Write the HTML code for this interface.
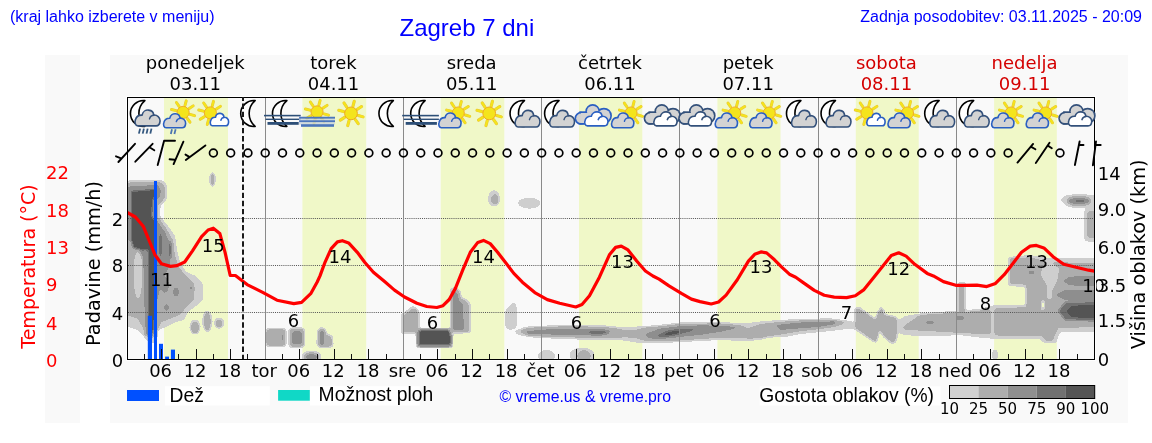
<!DOCTYPE html><html><head><meta charset="utf-8"><title>Zagreb 7 dni</title><style>html,body{margin:0;padding:0;background:#fff;width:1152px;height:443px;overflow:hidden}svg{display:block}</style></head><body>
<svg width="1152" height="443" viewBox="0 0 1152 443">
<defs>
<filter id="cf" filterUnits="userSpaceOnUse" x="115" y="85" width="992" height="286" color-interpolation-filters="sRGB">
<feGaussianBlur in="SourceGraphic" stdDeviation="1.3" result="b"/>
<feColorMatrix in="b" type="matrix" values="1 0 0 0 0 1 0 0 0 0 1 0 0 0 0 1 0 0 0 0" result="m"/>
<feComponentTransfer in="m">
<feFuncR type="discrete" tableValues="1.000 1.000 0.810 0.810 0.810 0.680 0.680 0.680 0.680 0.680 0.560 0.560 0.560 0.560 0.560 0.440 0.440 0.440 0.330 0.330"/>
<feFuncG type="discrete" tableValues="1.000 1.000 0.810 0.810 0.810 0.680 0.680 0.680 0.680 0.680 0.560 0.560 0.560 0.560 0.560 0.440 0.440 0.440 0.330 0.330"/>
<feFuncB type="discrete" tableValues="1.000 1.000 0.810 0.810 0.810 0.680 0.680 0.680 0.680 0.680 0.560 0.560 0.560 0.560 0.560 0.440 0.440 0.440 0.330 0.330"/>
<feFuncA type="discrete" tableValues="0 0 1 1 1 1 1 1 1 1 1 1 1 1 1 1 1 1 1 1"/>
</feComponentTransfer>
</filter>
<clipPath id="pc"><rect x="127" y="97" width="968" height="262"/></clipPath>
</defs>
<rect x="0" y="0" width="1152" height="443" fill="#ffffff"/>
<rect x="45" y="55" width="35" height="368" fill="#f9f9f9"/>
<rect x="110" y="55" width="1018" height="368" fill="#f9f9f9"/>
<text x="10" y="21.6" font-family="Liberation Sans, Arial, sans-serif" font-size="16" fill="#0000ff">(kraj lahko izberete v meniju)</text>
<text x="399.5" y="36.4" font-family="Liberation Sans, Arial, sans-serif" font-size="24" fill="#0000ff">Zagreb 7 dni</text>
<text x="1142" y="21.5" text-anchor="end" font-family="Liberation Sans, Arial, sans-serif" font-size="16" fill="#0000ff">Zadnja posodobitev: 03.11.2025 - 20:09</text>
<rect x="164.0" y="97" width="64.0" height="262" fill="#f0f8c8"/>
<rect x="302.4" y="97" width="63.8" height="262" fill="#f0f8c8"/>
<rect x="440.7" y="97" width="63.6" height="262" fill="#f0f8c8"/>
<rect x="579.0" y="97" width="63.3" height="262" fill="#f0f8c8"/>
<rect x="717.4" y="97" width="63.1" height="262" fill="#f0f8c8"/>
<rect x="855.8" y="97" width="62.9" height="262" fill="#f0f8c8"/>
<rect x="994.1" y="97" width="62.7" height="262" fill="#f0f8c8"/>
<g filter="url(#cf)" clip-path="url(#pc)">
<rect x="115" y="85" width="992" height="286" fill="#000"/>
<polygon fill="rgb(54,54,54)" points="120.0,188.0 124.0,182.0 129.0,180.5 163.0,180.5 167.0,185.0 167.0,199.0 160.5,206.0 160.0,216.0 168.0,226.0 175.0,236.0 177.0,250.0 180.0,262.0 186.0,272.0 196.0,276.0 203.0,284.0 203.0,300.0 196.0,306.0 188.0,312.0 184.0,320.0 176.0,322.0 166.0,327.0 158.0,330.0 157.0,342.0 150.0,344.0 145.0,338.0 138.0,330.0 120.0,324.0"/>
<polygon fill="rgb(94,94,94)" points="120.0,190.0 126.0,184.0 130.0,183.0 161.0,183.0 164.0,187.0 164.0,198.0 157.5,205.0 157.0,217.0 165.0,228.0 172.0,240.0 174.0,255.0 178.0,267.0 185.0,276.0 193.0,283.0 193.0,300.0 186.0,306.0 180.0,314.0 170.0,318.0 160.0,322.0 156.0,335.0 149.0,337.0 144.0,328.0 138.0,318.0 120.0,312.0"/>
<polygon fill="rgb(158,158,158)" points="120.0,195.0 127.0,188.0 131.0,186.0 158.0,185.0 161.0,190.0 160.0,197.0 155.0,202.0 154.0,216.0 162.0,228.0 168.0,240.0 170.0,255.0 170.0,265.0 165.0,275.0 160.0,290.0 157.0,300.0 155.0,330.0 150.0,332.0 146.0,322.0 144.0,300.0 143.0,270.0 135.0,245.0 129.0,240.0 120.0,240.0"/>
<ellipse fill="rgb(158,158,158)" cx="165.0" cy="285.0" rx="4.0" ry="8.0"/>
<ellipse fill="rgb(158,158,158)" cx="166.5" cy="307.5" rx="2.5" ry="3.5"/>
<ellipse fill="rgb(158,158,158)" cx="176.0" cy="292.0" rx="3.0" ry="5.0"/>
<polygon fill="rgb(247,247,247)" points="131.0,191.0 156.0,189.0 157.0,193.0 153.0,200.0 152.0,216.0 156.0,222.0 156.0,300.0 154.0,330.0 151.0,338.0 148.0,335.0 148.0,300.0 147.0,260.0 142.0,250.0 133.0,248.0 131.0,240.0"/>
<ellipse fill="rgb(51,51,51)" cx="138.0" cy="275.0" rx="5.0" ry="25.0"/>
<ellipse fill="rgb(31,31,31)" cx="139.0" cy="261.0" rx="3.5" ry="7.0"/>
<ellipse fill="rgb(36,36,36)" cx="139.0" cy="283.0" rx="3.0" ry="5.0"/>
<polygon fill="rgb(158,158,158)" points="143.0,250.0 148.0,250.0 148.5,335.0 145.5,335.0"/>
<polygon fill="rgb(158,158,158)" points="157.0,226.0 164.0,230.0 170.0,243.0 171.0,258.0 166.0,264.0 157.0,264.0"/>
<ellipse fill="rgb(209,209,209)" cx="160.5" cy="245.0" rx="2.0" ry="14.0"/>
<ellipse fill="rgb(209,209,209)" cx="170.0" cy="250.0" rx="2.0" ry="9.0"/>
<ellipse fill="rgb(94,94,94)" cx="190.5" cy="289.0" rx="3.5" ry="4.5"/>
<ellipse fill="rgb(158,158,158)" cx="191.0" cy="288.0" rx="1.5" ry="2.0"/>
<ellipse fill="rgb(54,54,54)" cx="195.0" cy="327.0" rx="5.5" ry="7.5"/>
<ellipse fill="rgb(94,94,94)" cx="195.0" cy="327.5" rx="3.5" ry="5.5"/>
<ellipse fill="rgb(54,54,54)" cx="207.3" cy="321.3" rx="5.0" ry="11.0"/>
<ellipse fill="rgb(94,94,94)" cx="207.3" cy="321.5" rx="3.0" ry="9.0"/>
<ellipse fill="rgb(54,54,54)" cx="219.2" cy="323.0" rx="5.2" ry="5.5"/>
<ellipse fill="rgb(94,94,94)" cx="219.0" cy="323.5" rx="3.0" ry="3.5"/>
<ellipse fill="rgb(54,54,54)" cx="212.5" cy="179.5" rx="3.0" ry="7.5"/>
<ellipse fill="rgb(94,94,94)" cx="212.5" cy="179.5" rx="2.0" ry="6.0"/>
<rect fill="rgb(54,54,54)" x="265.0" y="328.0" width="21.5" height="19.0" rx="4.0"/>
<rect fill="rgb(94,94,94)" x="266.5" y="329.5" width="18.5" height="16.0" rx="3.0"/>
<ellipse fill="rgb(158,158,158)" cx="283.0" cy="337.0" rx="1.0" ry="7.0"/>
<rect fill="rgb(54,54,54)" x="288.5" y="327.5" width="16.5" height="20.5" rx="4.0"/>
<rect fill="rgb(94,94,94)" x="290.0" y="329.0" width="13.5" height="17.5" rx="3.0"/>
<rect fill="rgb(158,158,158)" x="292.0" y="331.0" width="10.0" height="13.5" rx="2.0"/>
<polygon fill="rgb(54,54,54)" points="317.0,330.0 321.0,327.0 325.0,328.0 327.0,333.5 333.0,336.0 333.5,346.0 330.0,348.0 320.0,348.0 316.5,345.0"/>
<polygon fill="rgb(94,94,94)" points="318.5,331.0 321.0,329.0 324.0,330.0 325.5,335.0 331.0,337.5 331.5,345.0 329.0,346.5 320.5,346.5 318.5,344.0"/>
<rect fill="rgb(158,158,158)" x="319.5" y="331.0" width="5.0" height="14.0" rx="1.5"/>
<ellipse fill="rgb(54,54,54)" cx="311.5" cy="356.5" rx="10.0" ry="6.0"/>
<ellipse fill="rgb(158,158,158)" cx="311.5" cy="357.0" rx="7.0" ry="3.5"/>
<polygon fill="rgb(54,54,54)" points="401.0,314.0 406.0,311.0 412.0,306.0 416.0,307.0 419.5,311.0 419.5,334.0 401.0,334.0"/>
<polygon fill="rgb(94,94,94)" points="404.5,315.0 408.0,313.0 412.5,309.0 415.0,309.5 417.5,312.0 417.5,332.0 404.5,332.0"/>
<rect fill="rgb(54,54,54)" x="416.0" y="328.3" width="37.0" height="19.7" rx="3.0"/>
<rect fill="rgb(209,209,209)" x="417.5" y="329.5" width="34.0" height="17.0" rx="2.0"/>
<rect fill="rgb(247,247,247)" x="419.0" y="330.6" width="31.3" height="14.4" rx="1.0"/>
<polygon fill="rgb(54,54,54)" points="450.0,289.0 455.0,286.5 460.0,290.0 462.0,297.0 468.0,300.0 471.0,305.0 471.0,333.0 450.0,334.0"/>
<polygon fill="rgb(94,94,94)" points="451.0,291.0 455.0,288.5 459.0,292.0 460.5,299.0 466.0,302.0 469.0,307.0 469.0,331.0 451.0,332.0"/>
<polygon fill="rgb(158,158,158)" points="452.5,293.0 455.0,290.5 458.0,294.0 459.0,300.0 463.0,304.0 464.0,330.0 452.5,330.0"/>
<ellipse fill="rgb(54,54,54)" cx="494.0" cy="198.5" rx="6.0" ry="8.3"/>
<ellipse fill="rgb(94,94,94)" cx="495.0" cy="199.5" rx="3.0" ry="4.5"/>
<ellipse fill="rgb(54,54,54)" cx="529.2" cy="203.1" rx="11.3" ry="5.4"/>
<polygon fill="rgb(54,54,54)" points="505.0,311.0 511.0,304.0 514.5,302.5 516.5,306.0 516.5,327.0 513.0,329.5 507.0,329.5 505.0,325.0"/>
<polygon fill="rgb(54,54,54)" points="514.0,331.0 525.0,327.0 560.0,325.0 600.0,325.0 620.0,327.0 640.0,326.5 660.0,325.0 680.0,322.5 720.0,322.0 745.0,323.5 760.0,321.5 780.0,320.0 800.0,319.0 830.0,318.5 850.0,321.0 857.0,323.0 857.0,329.0 850.0,328.5 830.0,331.0 800.0,334.0 785.0,337.0 770.0,337.5 760.0,340.0 745.0,341.0 720.0,340.0 700.0,341.0 680.0,342.0 660.0,343.0 640.0,343.0 620.0,340.0 600.0,340.0 560.0,339.0 530.0,337.0 518.0,335.0"/>
<polygon fill="rgb(94,94,94)" points="520.0,331.0 530.0,327.5 560.0,326.8 600.0,327.0 615.0,328.5 625.0,331.0 635.0,331.0 645.0,328.0 680.0,324.5 720.0,324.0 740.0,326.0 748.0,329.0 760.0,325.0 780.0,322.5 800.0,321.0 835.0,320.0 845.0,322.5 835.0,326.0 820.0,328.0 800.0,330.5 785.0,333.0 770.0,335.5 760.0,337.5 750.0,338.0 740.0,337.0 720.0,337.0 700.0,338.5 680.0,340.0 660.0,341.0 645.0,340.0 635.0,337.0 625.0,336.5 615.0,337.0 600.0,337.5 560.0,336.5 530.0,336.0"/>
<polygon fill="rgb(158,158,158)" points="526.0,331.5 540.0,329.5 570.0,329.0 600.0,329.0 612.0,330.5 600.0,335.5 570.0,335.0 540.0,334.5 526.0,334.0"/>
<polygon fill="rgb(158,158,158)" points="645.0,334.0 660.0,328.5 680.0,326.0 700.0,325.0 725.0,325.5 740.0,327.5 720.0,332.0 700.0,335.0 680.0,337.0 660.0,339.0 648.0,338.5"/>
<ellipse fill="rgb(209,209,209)" cx="598.0" cy="332.5" rx="11.0" ry="2.3"/>
<polygon fill="rgb(209,209,209)" points="655.0,335.5 668.0,330.0 685.0,328.0 698.0,328.5 690.0,332.0 675.0,336.0 660.0,337.5"/>
<polygon fill="rgb(247,247,247)" points="662.0,334.5 672.0,331.0 682.0,330.5 678.0,333.5 668.0,336.0"/>
<polygon fill="rgb(158,158,158)" points="775.0,325.0 800.0,322.2 835.0,321.0 835.0,324.5 820.0,327.0 800.0,328.5 780.0,330.0"/>
<ellipse fill="rgb(54,54,54)" cx="546.5" cy="356.0" rx="8.5" ry="6.0"/>
<ellipse fill="rgb(54,54,54)" cx="582.0" cy="355.0" rx="12.5" ry="7.5"/>
<ellipse fill="rgb(94,94,94)" cx="584.0" cy="356.0" rx="6.0" ry="5.0"/>
<polygon fill="rgb(54,54,54)" points="854.5,308.0 859.0,306.5 875.0,318.0 878.0,310.5 881.0,306.5 884.5,309.5 885.0,314.0 896.5,316.5 898.5,321.0 898.0,336.0 895.5,343.5 890.5,343.5 882.5,336.5 880.5,332.5 879.5,332.5 877.0,343.0 872.5,341.5 854.5,329.5"/>
<polygon fill="rgb(94,94,94)" points="856.2,309.3 858.7,308.7 875.4,320.5 879.2,312.4 881.0,308.7 882.9,311.1 883.5,315.5 895.3,318.0 896.6,322.3 896.0,336.0 894.0,341.6 891.6,341.6 883.5,334.8 881.6,329.8 878.5,330.4 876.0,341.0 873.6,339.7 856.2,328.0 855.6,319.8"/>
<polygon fill="rgb(54,54,54)" points="896.0,322.0 905.0,316.0 920.0,313.5 940.0,312.0 960.0,310.5 980.0,309.0 990.0,306.0 1010.0,305.0 1010.0,339.0 997.0,339.0 980.0,337.5 960.0,335.0 940.0,336.0 920.0,336.0 905.0,335.0 896.0,332.0"/>
<polygon fill="rgb(94,94,94)" points="903.4,327.3 919.5,316.1 925.0,314.9 960.0,313.0 990.0,310.0 1010.0,308.0 1010.0,334.0 995.0,334.0 960.0,332.0 925.0,330.0 905.0,329.0"/>
<ellipse fill="rgb(158,158,158)" cx="930.0" cy="322.5" rx="5.0" ry="1.5"/>
<ellipse fill="rgb(158,158,158)" cx="960.0" cy="318.0" rx="5.0" ry="2.0"/>
<ellipse fill="rgb(158,158,158)" cx="999.0" cy="316.0" rx="9.0" ry="4.0"/>
<rect fill="rgb(54,54,54)" x="957.5" y="282.0" width="8.5" height="31.0" rx="2.0"/>
<rect fill="rgb(94,94,94)" x="959.5" y="284.5" width="4.5" height="27.5" rx="1.0"/>
<ellipse fill="rgb(54,54,54)" cx="995.0" cy="355.0" rx="3.0" ry="6.0"/>
<polygon fill="rgb(54,54,54)" points="1008.0,257.0 1030.0,255.0 1050.0,258.5 1105.0,258.5 1105.0,332.0 1060.0,332.0 1056.0,343.0 1044.0,343.0 1040.0,339.0 997.0,339.0 990.0,337.0 990.0,306.0 1000.0,305.0 1025.0,305.0 1025.0,287.0 1008.0,286.0"/>
<polygon fill="rgb(94,94,94)" points="1010.0,259.0 1030.0,258.0 1050.0,263.0 1105.0,264.0 1105.0,326.0 1058.0,327.0 1052.0,340.0 1046.0,340.0 1042.0,335.0 1000.0,335.0 995.0,334.0 995.0,309.0 1027.0,308.0 1027.0,284.0 1010.0,283.0"/>
<polygon fill="rgb(51,51,51)" points="1042.0,265.0 1050.0,262.0 1060.0,268.0 1058.0,280.0 1053.0,290.0 1052.0,300.0 1047.0,300.0 1046.0,285.0 1040.0,275.0"/>
<ellipse fill="rgb(15,15,15)" cx="1043.0" cy="305.0" rx="2.0" ry="6.0"/>
<ellipse fill="rgb(26,26,26)" cx="1051.0" cy="272.0" rx="2.5" ry="4.0"/>
<ellipse fill="rgb(158,158,158)" cx="1031.5" cy="272.5" rx="3.5" ry="2.0"/>
<polygon fill="rgb(158,158,158)" points="1062.0,281.0 1070.0,276.5 1105.0,276.0 1105.0,286.0 1070.0,285.5"/>
<polygon fill="rgb(158,158,158)" points="1055.0,295.0 1065.0,290.0 1105.0,289.5 1105.0,300.0 1065.0,300.0"/>
<polygon fill="rgb(209,209,209)" points="1058.0,311.0 1065.0,302.0 1105.0,300.5 1105.0,321.0 1065.0,320.5"/>
<polygon fill="rgb(247,247,247)" points="1066.0,311.0 1072.0,305.5 1105.0,305.0 1105.0,318.0 1072.0,317.5"/>
<polygon fill="rgb(54,54,54)" points="1060.5,200.0 1066.0,195.0 1080.0,194.0 1093.0,195.0 1105.0,200.0 1093.0,207.5 1075.0,208.0 1066.0,206.0"/>
<ellipse fill="rgb(158,158,158)" cx="1079.0" cy="201.0" rx="11.0" ry="4.0"/>
<ellipse fill="rgb(209,209,209)" cx="1080.0" cy="201.0" rx="5.0" ry="2.0"/>
<rect fill="rgb(54,54,54)" x="1084.0" y="208.5" width="21.0" height="33.0" rx="4.0"/>
<rect fill="rgb(94,94,94)" x="1087.5" y="212.0" width="17.5" height="25.0" rx="2.0"/>
</g>
<line x1="128" y1="218.5" x2="1094" y2="218.5" stroke="#555" stroke-width="1" stroke-dasharray="1,1.1"/>
<line x1="128" y1="265.5" x2="1094" y2="265.5" stroke="#555" stroke-width="1" stroke-dasharray="1,1.1"/>
<line x1="128" y1="312.5" x2="1094" y2="312.5" stroke="#555" stroke-width="1" stroke-dasharray="1,1.1"/>
<line x1="265.5" y1="97" x2="265.5" y2="359" stroke="#8a8a8a" stroke-width="1"/>
<line x1="403.5" y1="97" x2="403.5" y2="359" stroke="#8a8a8a" stroke-width="1"/>
<line x1="541.5" y1="97" x2="541.5" y2="359" stroke="#8a8a8a" stroke-width="1"/>
<line x1="679.5" y1="97" x2="679.5" y2="359" stroke="#8a8a8a" stroke-width="1"/>
<line x1="818.5" y1="97" x2="818.5" y2="359" stroke="#8a8a8a" stroke-width="1"/>
<line x1="956.5" y1="97" x2="956.5" y2="359" stroke="#8a8a8a" stroke-width="1"/>
<rect x="147.8" y="315.8" width="4.2" height="43.2" fill="#0050ff"/>
<rect x="154.0" y="181.0" width="3.0" height="178.0" fill="#0050ff"/>
<rect x="159.0" y="343.8" width="4.0" height="15.2" fill="#0050ff"/>
<rect x="165.1" y="356.6" width="3.9" height="2.4" fill="#0050ff"/>
<rect x="170.9" y="349.6" width="4.1" height="9.4" fill="#0050ff"/>
<path d="M127.6,212.7 L135.4,217.0 L143.2,226.2 L149.7,241.8 L154.9,254.7 L161.4,263.8 L170.5,266.4 L177.0,265.6 L184.7,262.0 L192.5,250.8 L201.6,236.6 L208.1,230.0 L213.3,228.2 L219.8,233.4 L225.0,252.1 L230.2,275.5 L235.4,275.5 L247.1,284.6 L262.7,292.4 L277.0,300.2 L293.8,303.6 L301.6,302.3 L310.7,293.7 L317.2,282.0 L320.0,275.9 L325.0,262.3 L331.2,248.6 L337.4,241.9 L342.4,240.7 L348.6,242.9 L357.3,252.3 L364.7,262.3 L373.4,272.2 L384.6,281.6 L394.5,290.1 L404.5,297.0 L416.9,303.3 L426.8,306.5 L436.8,307.5 L443.0,305.7 L449.2,299.5 L455.4,288.4 L462.9,269.7 L470.3,252.3 L477.8,242.4 L483.5,240.4 L490.2,243.6 L497.6,252.3 L506.3,263.5 L513.8,273.4 L522.4,282.2 L534.8,292.6 L547.3,299.6 L559.7,303.3 L575.8,307.0 L582.0,304.5 L589.5,295.8 L599.4,277.2 L609.4,254.8 L615.6,247.4 L621.3,246.1 L628.0,249.9 L636.7,261.0 L645.4,271.0 L652.9,276.0 L659.1,279.2 L669.0,285.9 L681.4,293.4 L691.4,299.1 L700.0,301.6 L711.2,304.0 L718.6,302.0 L726.1,295.1 L737.3,279.7 L748.4,261.1 L754.7,254.3 L760.9,251.9 L766.6,252.9 L774.5,259.8 L782.0,267.3 L789.4,274.2 L795.7,277.2 L804.3,283.4 L814.3,290.4 L824.2,295.3 L834.2,297.1 L846.6,297.6 L855.3,295.8 L864.0,289.6 L873.9,277.2 L883.9,264.8 L891.3,255.6 L898.7,252.8 L906.1,256.1 L914.8,264.3 L927.2,273.4 L933.4,275.9 L943.4,281.6 L955.8,285.3 L964.5,285.3 L976.9,285.1 L986.8,286.6 L995.5,283.4 L1004.2,274.7 L1012.9,263.5 L1021.5,252.3 L1030.2,246.1 L1036.4,245.4 L1043.9,247.9 L1053.8,257.3 L1063.7,264.3 L1076.1,267.2 L1088.6,270.2 L1094.5,271.2" fill="none" stroke="#ff0000" stroke-width="3.2" stroke-linejoin="round" stroke-linecap="round" clip-path="url(#pc)"/>
<text x="161.4" y="286.1" text-anchor="middle" font-family="DejaVu Sans, sans-serif" font-size="18" fill="#000">11</text>
<text x="213.3" y="251.7" text-anchor="middle" font-family="DejaVu Sans, sans-serif" font-size="18" fill="#000">15</text>
<text x="293.6" y="326.6" text-anchor="middle" font-family="DejaVu Sans, sans-serif" font-size="18" fill="#000">6</text>
<text x="339.9" y="262.6" text-anchor="middle" font-family="DejaVu Sans, sans-serif" font-size="18" fill="#000">14</text>
<text x="432.5" y="329.2" text-anchor="middle" font-family="DejaVu Sans, sans-serif" font-size="18" fill="#000">6</text>
<text x="483.5" y="262.6" text-anchor="middle" font-family="DejaVu Sans, sans-serif" font-size="18" fill="#000">14</text>
<text x="576.6" y="329.3" text-anchor="middle" font-family="DejaVu Sans, sans-serif" font-size="18" fill="#000">6</text>
<text x="622.5" y="268.4" text-anchor="middle" font-family="DejaVu Sans, sans-serif" font-size="18" fill="#000">13</text>
<text x="714.9" y="326.6" text-anchor="middle" font-family="DejaVu Sans, sans-serif" font-size="18" fill="#000">6</text>
<text x="760.9" y="273.4" text-anchor="middle" font-family="DejaVu Sans, sans-serif" font-size="18" fill="#000">13</text>
<text x="846.6" y="319.3" text-anchor="middle" font-family="DejaVu Sans, sans-serif" font-size="18" fill="#000">7</text>
<text x="898.7" y="274.6" text-anchor="middle" font-family="DejaVu Sans, sans-serif" font-size="18" fill="#000">12</text>
<text x="985.6" y="309.8" text-anchor="middle" font-family="DejaVu Sans, sans-serif" font-size="18" fill="#000">8</text>
<text x="1036.4" y="267.6" text-anchor="middle" font-family="DejaVu Sans, sans-serif" font-size="18" fill="#000">13</text>
<text x="1093.6" y="292.1" text-anchor="middle" font-family="DejaVu Sans, sans-serif" font-size="18" fill="#000">10</text>
<rect x="126.5" y="96.5" width="969" height="264" fill="none" stroke="#fff" stroke-width="1"/>
<rect x="127.5" y="97.5" width="967" height="262" fill="none" stroke="#000" stroke-width="1"/>
<path transform="translate(138.28,113.50) scale(1.00)" d="M6.6,-12.9 A12.98,12.98 0 1 0 6.6,12.9 A16.87,16.87 0 0 1 6.6,-12.9 Z" fill="#fff" stroke="#000" stroke-width="1.6" stroke-linejoin="round"/>
<g transform="translate(134.88,109.90) scale(1.008,1.000)"><path d="M3,16 C0.5,16 -0.5,12.5 0.5,10 C1.3,7 4,5 7.2,5.2 C7.8,1.5 11,0 13.5,0.2 C16.5,0.5 18.6,2.5 18.6,5.2 C22,4.8 25.2,7.5 25,11 C24.8,14 23,16 21,16 Z" fill="#d3d3d3" stroke="#33507a" stroke-width="1.60" vector-effect="non-scaling-stroke" stroke-linejoin="round"/><path d="M14.5,9.0 C15.2,6.5 17,5.4 19,5.4" fill="none" stroke="#33507a" stroke-width="1.44" vector-effect="non-scaling-stroke" stroke-linecap="round"/></g>
<line x1="140.1" y1="128.6" x2="138.9" y2="133.6" stroke="#34577f" stroke-width="1.8"/>
<line x1="143.9" y1="128.6" x2="142.7" y2="133.6" stroke="#34577f" stroke-width="1.8"/>
<line x1="147.7" y1="128.6" x2="146.5" y2="133.6" stroke="#34577f" stroke-width="1.8"/>
<line x1="151.5" y1="128.6" x2="150.3" y2="133.6" stroke="#34577f" stroke-width="1.8"/>
<g transform="translate(183.13,112.40) scale(0.95)"><line x1="1.97" y1="-7.34" x2="3.26" y2="-12.17" stroke="#e9c23a" stroke-width="3.1" stroke-linecap="round"/><line x1="-4.25" y1="-6.30" x2="-7.05" y2="-10.45" stroke="#e9c23a" stroke-width="3.1" stroke-linecap="round"/><line x1="-7.37" y1="-1.84" x2="-12.23" y2="-3.05" stroke="#e9c23a" stroke-width="3.1" stroke-linecap="round"/><line x1="-6.45" y1="4.03" x2="-10.69" y2="6.68" stroke="#e9c23a" stroke-width="3.1" stroke-linecap="round"/><line x1="-1.97" y1="7.34" x2="-3.26" y2="12.17" stroke="#e9c23a" stroke-width="3.1" stroke-linecap="round"/><line x1="4.36" y1="6.23" x2="7.23" y2="10.32" stroke="#e9c23a" stroke-width="3.1" stroke-linecap="round"/><line x1="7.31" y1="2.09" x2="12.11" y2="3.47" stroke="#e9c23a" stroke-width="3.1" stroke-linecap="round"/><line x1="6.37" y1="-4.14" x2="10.57" y2="-6.86" stroke="#e9c23a" stroke-width="3.1" stroke-linecap="round"/><line x1="1.97" y1="-7.34" x2="3.26" y2="-12.17" stroke="#f4e41c" stroke-width="2.2" stroke-linecap="round"/><line x1="-4.25" y1="-6.30" x2="-7.05" y2="-10.45" stroke="#f4e41c" stroke-width="2.2" stroke-linecap="round"/><line x1="-7.37" y1="-1.84" x2="-12.23" y2="-3.05" stroke="#f4e41c" stroke-width="2.2" stroke-linecap="round"/><line x1="-6.45" y1="4.03" x2="-10.69" y2="6.68" stroke="#f4e41c" stroke-width="2.2" stroke-linecap="round"/><line x1="-1.97" y1="7.34" x2="-3.26" y2="12.17" stroke="#f4e41c" stroke-width="2.2" stroke-linecap="round"/><line x1="4.36" y1="6.23" x2="7.23" y2="10.32" stroke="#f4e41c" stroke-width="2.2" stroke-linecap="round"/><line x1="7.31" y1="2.09" x2="12.11" y2="3.47" stroke="#f4e41c" stroke-width="2.2" stroke-linecap="round"/><line x1="6.37" y1="-4.14" x2="10.57" y2="-6.86" stroke="#f4e41c" stroke-width="2.2" stroke-linecap="round"/><circle r="6.4" fill="#f4e41c" stroke="#eea21e" stroke-width="0.9"/></g>
<g transform="translate(163.43,113.60) scale(0.888,0.887)"><path d="M3,16 C0.5,16 -0.5,12.5 0.5,10 C1.3,7 4,5 7.2,5.2 C7.8,1.5 11,0 13.5,0.2 C16.5,0.5 18.6,2.5 18.6,5.2 C22,4.8 25.2,7.5 25,11 C24.8,14 23,16 21,16 Z" fill="#d3d3d3" stroke="#2a5fc2" stroke-width="1.60" vector-effect="non-scaling-stroke" stroke-linejoin="round"/><path d="M14.5,9.0 C15.2,6.5 17,5.4 19,5.4" fill="none" stroke="#2a5fc2" stroke-width="1.44" vector-effect="non-scaling-stroke" stroke-linecap="round"/></g>
<line x1="172.0" y1="129.2" x2="170.8" y2="134.0" stroke="#4a73b0" stroke-width="1.8"/>
<line x1="175.6" y1="129.2" x2="174.4" y2="134.0" stroke="#4a73b0" stroke-width="1.8"/>
<g transform="translate(210.38,112.90) scale(0.95)"><line x1="1.97" y1="-7.34" x2="3.26" y2="-12.17" stroke="#e9c23a" stroke-width="3.1" stroke-linecap="round"/><line x1="-4.25" y1="-6.30" x2="-7.05" y2="-10.45" stroke="#e9c23a" stroke-width="3.1" stroke-linecap="round"/><line x1="-7.37" y1="-1.84" x2="-12.23" y2="-3.05" stroke="#e9c23a" stroke-width="3.1" stroke-linecap="round"/><line x1="-6.45" y1="4.03" x2="-10.69" y2="6.68" stroke="#e9c23a" stroke-width="3.1" stroke-linecap="round"/><line x1="-1.97" y1="7.34" x2="-3.26" y2="12.17" stroke="#e9c23a" stroke-width="3.1" stroke-linecap="round"/><line x1="4.36" y1="6.23" x2="7.23" y2="10.32" stroke="#e9c23a" stroke-width="3.1" stroke-linecap="round"/><line x1="7.31" y1="2.09" x2="12.11" y2="3.47" stroke="#e9c23a" stroke-width="3.1" stroke-linecap="round"/><line x1="6.37" y1="-4.14" x2="10.57" y2="-6.86" stroke="#e9c23a" stroke-width="3.1" stroke-linecap="round"/><line x1="1.97" y1="-7.34" x2="3.26" y2="-12.17" stroke="#f4e41c" stroke-width="2.2" stroke-linecap="round"/><line x1="-4.25" y1="-6.30" x2="-7.05" y2="-10.45" stroke="#f4e41c" stroke-width="2.2" stroke-linecap="round"/><line x1="-7.37" y1="-1.84" x2="-12.23" y2="-3.05" stroke="#f4e41c" stroke-width="2.2" stroke-linecap="round"/><line x1="-6.45" y1="4.03" x2="-10.69" y2="6.68" stroke="#f4e41c" stroke-width="2.2" stroke-linecap="round"/><line x1="-1.97" y1="7.34" x2="-3.26" y2="12.17" stroke="#f4e41c" stroke-width="2.2" stroke-linecap="round"/><line x1="4.36" y1="6.23" x2="7.23" y2="10.32" stroke="#f4e41c" stroke-width="2.2" stroke-linecap="round"/><line x1="7.31" y1="2.09" x2="12.11" y2="3.47" stroke="#f4e41c" stroke-width="2.2" stroke-linecap="round"/><line x1="6.37" y1="-4.14" x2="10.57" y2="-6.86" stroke="#f4e41c" stroke-width="2.2" stroke-linecap="round"/><circle r="6.4" fill="#f4e41c" stroke="#eea21e" stroke-width="0.9"/></g>
<g transform="translate(210.19,113.20) scale(0.736,0.787)"><path d="M3,16 C0.5,16 -0.5,12.5 0.5,10 C1.3,7 4,5 7.2,5.2 C7.8,1.5 11,0 13.5,0.2 C16.5,0.5 18.6,2.5 18.6,5.2 C22,4.8 25.2,7.5 25,11 C24.8,14 23,16 21,16 Z" fill="#fff" stroke="#2a5fc2" stroke-width="1.60" vector-effect="non-scaling-stroke" stroke-linejoin="round"/><path d="M14.5,9.0 C15.2,6.5 17,5.4 19,5.4" fill="none" stroke="#2a5fc2" stroke-width="1.44" vector-effect="non-scaling-stroke" stroke-linecap="round"/></g>
<path transform="translate(248.54,113.50) scale(1.00)" d="M6.6,-12.9 A12.98,12.98 0 1 0 6.6,12.9 A16.87,16.87 0 0 1 6.6,-12.9 Z" fill="#fff" stroke="#000" stroke-width="1.6" stroke-linejoin="round"/>
<path transform="translate(280.29,113.50) scale(1.00)" d="M6.6,-12.9 A12.98,12.98 0 1 0 6.6,12.9 A16.87,16.87 0 0 1 6.6,-12.9 Z" fill="#fff" stroke="#000" stroke-width="1.6" stroke-linejoin="round"/>
<rect x="264.0" y="114.80" width="36.7" height="1.60" fill="#2d4f78"/>
<rect x="265.5" y="118.60" width="35.2" height="1.40" fill="#2d4f78"/>
<rect x="267.5" y="122.00" width="31.2" height="2.80" fill="#2d4f78"/>
<g transform="translate(317.05,111.90) scale(0.95)"><line x1="1.97" y1="-7.34" x2="3.26" y2="-12.17" stroke="#e9c23a" stroke-width="3.1" stroke-linecap="round"/><line x1="-4.25" y1="-6.30" x2="-7.05" y2="-10.45" stroke="#e9c23a" stroke-width="3.1" stroke-linecap="round"/><line x1="-7.37" y1="-1.84" x2="-12.23" y2="-3.05" stroke="#e9c23a" stroke-width="3.1" stroke-linecap="round"/><line x1="-6.45" y1="4.03" x2="-10.69" y2="6.68" stroke="#e9c23a" stroke-width="3.1" stroke-linecap="round"/><line x1="-1.97" y1="7.34" x2="-3.26" y2="12.17" stroke="#e9c23a" stroke-width="3.1" stroke-linecap="round"/><line x1="4.36" y1="6.23" x2="7.23" y2="10.32" stroke="#e9c23a" stroke-width="3.1" stroke-linecap="round"/><line x1="7.31" y1="2.09" x2="12.11" y2="3.47" stroke="#e9c23a" stroke-width="3.1" stroke-linecap="round"/><line x1="6.37" y1="-4.14" x2="10.57" y2="-6.86" stroke="#e9c23a" stroke-width="3.1" stroke-linecap="round"/><line x1="1.97" y1="-7.34" x2="3.26" y2="-12.17" stroke="#f4e41c" stroke-width="2.2" stroke-linecap="round"/><line x1="-4.25" y1="-6.30" x2="-7.05" y2="-10.45" stroke="#f4e41c" stroke-width="2.2" stroke-linecap="round"/><line x1="-7.37" y1="-1.84" x2="-12.23" y2="-3.05" stroke="#f4e41c" stroke-width="2.2" stroke-linecap="round"/><line x1="-6.45" y1="4.03" x2="-10.69" y2="6.68" stroke="#f4e41c" stroke-width="2.2" stroke-linecap="round"/><line x1="-1.97" y1="7.34" x2="-3.26" y2="12.17" stroke="#f4e41c" stroke-width="2.2" stroke-linecap="round"/><line x1="4.36" y1="6.23" x2="7.23" y2="10.32" stroke="#f4e41c" stroke-width="2.2" stroke-linecap="round"/><line x1="7.31" y1="2.09" x2="12.11" y2="3.47" stroke="#f4e41c" stroke-width="2.2" stroke-linecap="round"/><line x1="6.37" y1="-4.14" x2="10.57" y2="-6.86" stroke="#f4e41c" stroke-width="2.2" stroke-linecap="round"/><circle r="6.4" fill="#f4e41c" stroke="#eea21e" stroke-width="0.9"/></g>
<rect x="299.0" y="118.6" width="36" height="6" fill="#c9d3de" opacity="0.8"/>
<rect x="299.1" y="116.75" width="35.9" height="1.90" fill="#4b76bd"/>
<rect x="299.1" y="120.30" width="35.9" height="1.80" fill="#4b76bd"/>
<rect x="301.0" y="124.20" width="33.0" height="2.60" fill="#4b76bd"/>
<g transform="translate(351.00,113.40) scale(1.00)"><line x1="1.97" y1="-7.34" x2="3.26" y2="-12.17" stroke="#e9c23a" stroke-width="3.1" stroke-linecap="round"/><line x1="-4.25" y1="-6.30" x2="-7.05" y2="-10.45" stroke="#e9c23a" stroke-width="3.1" stroke-linecap="round"/><line x1="-7.37" y1="-1.84" x2="-12.23" y2="-3.05" stroke="#e9c23a" stroke-width="3.1" stroke-linecap="round"/><line x1="-6.45" y1="4.03" x2="-10.69" y2="6.68" stroke="#e9c23a" stroke-width="3.1" stroke-linecap="round"/><line x1="-1.97" y1="7.34" x2="-3.26" y2="12.17" stroke="#e9c23a" stroke-width="3.1" stroke-linecap="round"/><line x1="4.36" y1="6.23" x2="7.23" y2="10.32" stroke="#e9c23a" stroke-width="3.1" stroke-linecap="round"/><line x1="7.31" y1="2.09" x2="12.11" y2="3.47" stroke="#e9c23a" stroke-width="3.1" stroke-linecap="round"/><line x1="6.37" y1="-4.14" x2="10.57" y2="-6.86" stroke="#e9c23a" stroke-width="3.1" stroke-linecap="round"/><line x1="1.97" y1="-7.34" x2="3.26" y2="-12.17" stroke="#f4e41c" stroke-width="2.2" stroke-linecap="round"/><line x1="-4.25" y1="-6.30" x2="-7.05" y2="-10.45" stroke="#f4e41c" stroke-width="2.2" stroke-linecap="round"/><line x1="-7.37" y1="-1.84" x2="-12.23" y2="-3.05" stroke="#f4e41c" stroke-width="2.2" stroke-linecap="round"/><line x1="-6.45" y1="4.03" x2="-10.69" y2="6.68" stroke="#f4e41c" stroke-width="2.2" stroke-linecap="round"/><line x1="-1.97" y1="7.34" x2="-3.26" y2="12.17" stroke="#f4e41c" stroke-width="2.2" stroke-linecap="round"/><line x1="4.36" y1="6.23" x2="7.23" y2="10.32" stroke="#f4e41c" stroke-width="2.2" stroke-linecap="round"/><line x1="7.31" y1="2.09" x2="12.11" y2="3.47" stroke="#f4e41c" stroke-width="2.2" stroke-linecap="round"/><line x1="6.37" y1="-4.14" x2="10.57" y2="-6.86" stroke="#f4e41c" stroke-width="2.2" stroke-linecap="round"/><circle r="6.4" fill="#f4e41c" stroke="#eea21e" stroke-width="0.9"/></g>
<path transform="translate(386.76,113.50) scale(1.00)" d="M6.6,-12.9 A12.98,12.98 0 1 0 6.6,12.9 A16.87,16.87 0 0 1 6.6,-12.9 Z" fill="#fff" stroke="#000" stroke-width="1.6" stroke-linejoin="round"/>
<path transform="translate(418.51,113.50) scale(1.00)" d="M6.6,-12.9 A12.98,12.98 0 1 0 6.6,12.9 A16.87,16.87 0 0 1 6.6,-12.9 Z" fill="#fff" stroke="#000" stroke-width="1.6" stroke-linejoin="round"/>
<rect x="402.2" y="114.80" width="36.7" height="1.60" fill="#2d4f78"/>
<rect x="403.7" y="118.60" width="35.2" height="1.40" fill="#2d4f78"/>
<rect x="405.7" y="122.00" width="31.2" height="2.80" fill="#2d4f78"/>
<g transform="translate(458.26,113.00) scale(0.95)"><line x1="1.97" y1="-7.34" x2="3.26" y2="-12.17" stroke="#e9c23a" stroke-width="3.1" stroke-linecap="round"/><line x1="-4.25" y1="-6.30" x2="-7.05" y2="-10.45" stroke="#e9c23a" stroke-width="3.1" stroke-linecap="round"/><line x1="-7.37" y1="-1.84" x2="-12.23" y2="-3.05" stroke="#e9c23a" stroke-width="3.1" stroke-linecap="round"/><line x1="-6.45" y1="4.03" x2="-10.69" y2="6.68" stroke="#e9c23a" stroke-width="3.1" stroke-linecap="round"/><line x1="-1.97" y1="7.34" x2="-3.26" y2="12.17" stroke="#e9c23a" stroke-width="3.1" stroke-linecap="round"/><line x1="4.36" y1="6.23" x2="7.23" y2="10.32" stroke="#e9c23a" stroke-width="3.1" stroke-linecap="round"/><line x1="7.31" y1="2.09" x2="12.11" y2="3.47" stroke="#e9c23a" stroke-width="3.1" stroke-linecap="round"/><line x1="6.37" y1="-4.14" x2="10.57" y2="-6.86" stroke="#e9c23a" stroke-width="3.1" stroke-linecap="round"/><line x1="1.97" y1="-7.34" x2="3.26" y2="-12.17" stroke="#f4e41c" stroke-width="2.2" stroke-linecap="round"/><line x1="-4.25" y1="-6.30" x2="-7.05" y2="-10.45" stroke="#f4e41c" stroke-width="2.2" stroke-linecap="round"/><line x1="-7.37" y1="-1.84" x2="-12.23" y2="-3.05" stroke="#f4e41c" stroke-width="2.2" stroke-linecap="round"/><line x1="-6.45" y1="4.03" x2="-10.69" y2="6.68" stroke="#f4e41c" stroke-width="2.2" stroke-linecap="round"/><line x1="-1.97" y1="7.34" x2="-3.26" y2="12.17" stroke="#f4e41c" stroke-width="2.2" stroke-linecap="round"/><line x1="4.36" y1="6.23" x2="7.23" y2="10.32" stroke="#f4e41c" stroke-width="2.2" stroke-linecap="round"/><line x1="7.31" y1="2.09" x2="12.11" y2="3.47" stroke="#f4e41c" stroke-width="2.2" stroke-linecap="round"/><line x1="6.37" y1="-4.14" x2="10.57" y2="-6.86" stroke="#f4e41c" stroke-width="2.2" stroke-linecap="round"/><circle r="6.4" fill="#f4e41c" stroke="#eea21e" stroke-width="0.9"/></g>
<g transform="translate(438.66,112.80) scale(0.896,0.938)"><path d="M3,16 C0.5,16 -0.5,12.5 0.5,10 C1.3,7 4,5 7.2,5.2 C7.8,1.5 11,0 13.5,0.2 C16.5,0.5 18.6,2.5 18.6,5.2 C22,4.8 25.2,7.5 25,11 C24.8,14 23,16 21,16 Z" fill="#d3d3d3" stroke="#2a5fc2" stroke-width="1.60" vector-effect="non-scaling-stroke" stroke-linejoin="round"/><path d="M14.5,9.0 C15.2,6.5 17,5.4 19,5.4" fill="none" stroke="#2a5fc2" stroke-width="1.44" vector-effect="non-scaling-stroke" stroke-linecap="round"/></g>
<g transform="translate(489.22,113.40) scale(1.00)"><line x1="1.97" y1="-7.34" x2="3.26" y2="-12.17" stroke="#e9c23a" stroke-width="3.1" stroke-linecap="round"/><line x1="-4.25" y1="-6.30" x2="-7.05" y2="-10.45" stroke="#e9c23a" stroke-width="3.1" stroke-linecap="round"/><line x1="-7.37" y1="-1.84" x2="-12.23" y2="-3.05" stroke="#e9c23a" stroke-width="3.1" stroke-linecap="round"/><line x1="-6.45" y1="4.03" x2="-10.69" y2="6.68" stroke="#e9c23a" stroke-width="3.1" stroke-linecap="round"/><line x1="-1.97" y1="7.34" x2="-3.26" y2="12.17" stroke="#e9c23a" stroke-width="3.1" stroke-linecap="round"/><line x1="4.36" y1="6.23" x2="7.23" y2="10.32" stroke="#e9c23a" stroke-width="3.1" stroke-linecap="round"/><line x1="7.31" y1="2.09" x2="12.11" y2="3.47" stroke="#e9c23a" stroke-width="3.1" stroke-linecap="round"/><line x1="6.37" y1="-4.14" x2="10.57" y2="-6.86" stroke="#e9c23a" stroke-width="3.1" stroke-linecap="round"/><line x1="1.97" y1="-7.34" x2="3.26" y2="-12.17" stroke="#f4e41c" stroke-width="2.2" stroke-linecap="round"/><line x1="-4.25" y1="-6.30" x2="-7.05" y2="-10.45" stroke="#f4e41c" stroke-width="2.2" stroke-linecap="round"/><line x1="-7.37" y1="-1.84" x2="-12.23" y2="-3.05" stroke="#f4e41c" stroke-width="2.2" stroke-linecap="round"/><line x1="-6.45" y1="4.03" x2="-10.69" y2="6.68" stroke="#f4e41c" stroke-width="2.2" stroke-linecap="round"/><line x1="-1.97" y1="7.34" x2="-3.26" y2="12.17" stroke="#f4e41c" stroke-width="2.2" stroke-linecap="round"/><line x1="4.36" y1="6.23" x2="7.23" y2="10.32" stroke="#f4e41c" stroke-width="2.2" stroke-linecap="round"/><line x1="7.31" y1="2.09" x2="12.11" y2="3.47" stroke="#f4e41c" stroke-width="2.2" stroke-linecap="round"/><line x1="6.37" y1="-4.14" x2="10.57" y2="-6.86" stroke="#f4e41c" stroke-width="2.2" stroke-linecap="round"/><circle r="6.4" fill="#f4e41c" stroke="#eea21e" stroke-width="0.9"/></g>
<path transform="translate(517.87,113.50) scale(1.00)" d="M6.6,-12.9 A12.98,12.98 0 1 0 6.6,12.9 A16.87,16.87 0 0 1 6.6,-12.9 Z" fill="#fff" stroke="#000" stroke-width="1.6" stroke-linejoin="round"/>
<g transform="translate(514.97,110.20) scale(1.000,1.050)"><path d="M3,16 C0.5,16 -0.5,12.5 0.5,10 C1.3,7 4,5 7.2,5.2 C7.8,1.5 11,0 13.5,0.2 C16.5,0.5 18.6,2.5 18.6,5.2 C22,4.8 25.2,7.5 25,11 C24.8,14 23,16 21,16 Z" fill="#d3d3d3" stroke="#33507a" stroke-width="1.60" vector-effect="non-scaling-stroke" stroke-linejoin="round"/><path d="M14.5,9.0 C15.2,6.5 17,5.4 19,5.4" fill="none" stroke="#33507a" stroke-width="1.44" vector-effect="non-scaling-stroke" stroke-linecap="round"/></g>
<path transform="translate(552.42,113.50) scale(1.00)" d="M6.6,-12.9 A12.98,12.98 0 1 0 6.6,12.9 A16.87,16.87 0 0 1 6.6,-12.9 Z" fill="#fff" stroke="#000" stroke-width="1.6" stroke-linejoin="round"/>
<g transform="translate(549.52,110.20) scale(1.000,1.050)"><path d="M3,16 C0.5,16 -0.5,12.5 0.5,10 C1.3,7 4,5 7.2,5.2 C7.8,1.5 11,0 13.5,0.2 C16.5,0.5 18.6,2.5 18.6,5.2 C22,4.8 25.2,7.5 25,11 C24.8,14 23,16 21,16 Z" fill="#d3d3d3" stroke="#33507a" stroke-width="1.60" vector-effect="non-scaling-stroke" stroke-linejoin="round"/><path d="M14.5,9.0 C15.2,6.5 17,5.4 19,5.4" fill="none" stroke="#33507a" stroke-width="1.44" vector-effect="non-scaling-stroke" stroke-linecap="round"/></g>
<g stroke="#2a5fc2" stroke-width="3.40" fill="#2a5fc2"><circle cx="580.98" cy="118.30" r="4.80"/><circle cx="592.68" cy="111.40" r="5.70"/><circle cx="603.88" cy="115.80" r="6.40"/><rect x="580.98" y="113" width="22.90" height="10" /></g><g fill="#d3d3d3"><circle cx="580.98" cy="118.30" r="4.80"/><circle cx="592.68" cy="111.40" r="5.70"/><circle cx="603.88" cy="115.80" r="6.40"/><rect x="580.98" y="113" width="22.90" height="10" /></g>
<g transform="translate(584.58,111.70) scale(0.936,0.887)"><path d="M3,16 C0.5,16 -0.5,12.5 0.5,10 C1.3,7 4,5 7.2,5.2 C7.8,1.5 11,0 13.5,0.2 C16.5,0.5 18.6,2.5 18.6,5.2 C22,4.8 25.2,7.5 25,11 C24.8,14 23,16 21,16 Z" fill="#fff" stroke="#2a5fc2" stroke-width="1.60" vector-effect="non-scaling-stroke" stroke-linejoin="round"/><path d="M14.5,9.0 C15.2,6.5 17,5.4 19,5.4" fill="none" stroke="#2a5fc2" stroke-width="1.44" vector-effect="non-scaling-stroke" stroke-linecap="round"/></g>
<g transform="translate(631.03,113.00) scale(0.95)"><line x1="1.97" y1="-7.34" x2="3.26" y2="-12.17" stroke="#e9c23a" stroke-width="3.1" stroke-linecap="round"/><line x1="-4.25" y1="-6.30" x2="-7.05" y2="-10.45" stroke="#e9c23a" stroke-width="3.1" stroke-linecap="round"/><line x1="-7.37" y1="-1.84" x2="-12.23" y2="-3.05" stroke="#e9c23a" stroke-width="3.1" stroke-linecap="round"/><line x1="-6.45" y1="4.03" x2="-10.69" y2="6.68" stroke="#e9c23a" stroke-width="3.1" stroke-linecap="round"/><line x1="-1.97" y1="7.34" x2="-3.26" y2="12.17" stroke="#e9c23a" stroke-width="3.1" stroke-linecap="round"/><line x1="4.36" y1="6.23" x2="7.23" y2="10.32" stroke="#e9c23a" stroke-width="3.1" stroke-linecap="round"/><line x1="7.31" y1="2.09" x2="12.11" y2="3.47" stroke="#e9c23a" stroke-width="3.1" stroke-linecap="round"/><line x1="6.37" y1="-4.14" x2="10.57" y2="-6.86" stroke="#e9c23a" stroke-width="3.1" stroke-linecap="round"/><line x1="1.97" y1="-7.34" x2="3.26" y2="-12.17" stroke="#f4e41c" stroke-width="2.2" stroke-linecap="round"/><line x1="-4.25" y1="-6.30" x2="-7.05" y2="-10.45" stroke="#f4e41c" stroke-width="2.2" stroke-linecap="round"/><line x1="-7.37" y1="-1.84" x2="-12.23" y2="-3.05" stroke="#f4e41c" stroke-width="2.2" stroke-linecap="round"/><line x1="-6.45" y1="4.03" x2="-10.69" y2="6.68" stroke="#f4e41c" stroke-width="2.2" stroke-linecap="round"/><line x1="-1.97" y1="7.34" x2="-3.26" y2="12.17" stroke="#f4e41c" stroke-width="2.2" stroke-linecap="round"/><line x1="4.36" y1="6.23" x2="7.23" y2="10.32" stroke="#f4e41c" stroke-width="2.2" stroke-linecap="round"/><line x1="7.31" y1="2.09" x2="12.11" y2="3.47" stroke="#f4e41c" stroke-width="2.2" stroke-linecap="round"/><line x1="6.37" y1="-4.14" x2="10.57" y2="-6.86" stroke="#f4e41c" stroke-width="2.2" stroke-linecap="round"/><circle r="6.4" fill="#f4e41c" stroke="#eea21e" stroke-width="0.9"/></g>
<g transform="translate(611.43,112.80) scale(0.896,0.938)"><path d="M3,16 C0.5,16 -0.5,12.5 0.5,10 C1.3,7 4,5 7.2,5.2 C7.8,1.5 11,0 13.5,0.2 C16.5,0.5 18.6,2.5 18.6,5.2 C22,4.8 25.2,7.5 25,11 C24.8,14 23,16 21,16 Z" fill="#d3d3d3" stroke="#2a5fc2" stroke-width="1.60" vector-effect="non-scaling-stroke" stroke-linejoin="round"/><path d="M14.5,9.0 C15.2,6.5 17,5.4 19,5.4" fill="none" stroke="#2a5fc2" stroke-width="1.44" vector-effect="non-scaling-stroke" stroke-linecap="round"/></g>
<g stroke="#33507a" stroke-width="3.40" fill="#33507a"><circle cx="650.09" cy="118.30" r="4.80"/><circle cx="661.79" cy="111.40" r="5.70"/><circle cx="672.99" cy="115.80" r="6.40"/><rect x="650.09" y="113" width="22.90" height="10" /></g><g fill="#d3d3d3"><circle cx="650.09" cy="118.30" r="4.80"/><circle cx="661.79" cy="111.40" r="5.70"/><circle cx="672.99" cy="115.80" r="6.40"/><rect x="650.09" y="113" width="22.90" height="10" /></g>
<g transform="translate(653.69,111.70) scale(0.936,0.887)"><path d="M3,16 C0.5,16 -0.5,12.5 0.5,10 C1.3,7 4,5 7.2,5.2 C7.8,1.5 11,0 13.5,0.2 C16.5,0.5 18.6,2.5 18.6,5.2 C22,4.8 25.2,7.5 25,11 C24.8,14 23,16 21,16 Z" fill="#fff" stroke="#33507a" stroke-width="1.60" vector-effect="non-scaling-stroke" stroke-linejoin="round"/><path d="M14.5,9.0 C15.2,6.5 17,5.4 19,5.4" fill="none" stroke="#33507a" stroke-width="1.44" vector-effect="non-scaling-stroke" stroke-linecap="round"/></g>
<g stroke="#33507a" stroke-width="3.40" fill="#33507a"><circle cx="684.64" cy="118.30" r="4.80"/><circle cx="696.34" cy="111.40" r="5.70"/><circle cx="707.54" cy="115.80" r="6.40"/><rect x="684.64" y="113" width="22.90" height="10" /></g><g fill="#d3d3d3"><circle cx="684.64" cy="118.30" r="4.80"/><circle cx="696.34" cy="111.40" r="5.70"/><circle cx="707.54" cy="115.80" r="6.40"/><rect x="684.64" y="113" width="22.90" height="10" /></g>
<g transform="translate(688.24,111.70) scale(0.936,0.887)"><path d="M3,16 C0.5,16 -0.5,12.5 0.5,10 C1.3,7 4,5 7.2,5.2 C7.8,1.5 11,0 13.5,0.2 C16.5,0.5 18.6,2.5 18.6,5.2 C22,4.8 25.2,7.5 25,11 C24.8,14 23,16 21,16 Z" fill="#fff" stroke="#33507a" stroke-width="1.60" vector-effect="non-scaling-stroke" stroke-linejoin="round"/><path d="M14.5,9.0 C15.2,6.5 17,5.4 19,5.4" fill="none" stroke="#33507a" stroke-width="1.44" vector-effect="non-scaling-stroke" stroke-linecap="round"/></g>
<g transform="translate(734.70,113.00) scale(0.95)"><line x1="1.97" y1="-7.34" x2="3.26" y2="-12.17" stroke="#e9c23a" stroke-width="3.1" stroke-linecap="round"/><line x1="-4.25" y1="-6.30" x2="-7.05" y2="-10.45" stroke="#e9c23a" stroke-width="3.1" stroke-linecap="round"/><line x1="-7.37" y1="-1.84" x2="-12.23" y2="-3.05" stroke="#e9c23a" stroke-width="3.1" stroke-linecap="round"/><line x1="-6.45" y1="4.03" x2="-10.69" y2="6.68" stroke="#e9c23a" stroke-width="3.1" stroke-linecap="round"/><line x1="-1.97" y1="7.34" x2="-3.26" y2="12.17" stroke="#e9c23a" stroke-width="3.1" stroke-linecap="round"/><line x1="4.36" y1="6.23" x2="7.23" y2="10.32" stroke="#e9c23a" stroke-width="3.1" stroke-linecap="round"/><line x1="7.31" y1="2.09" x2="12.11" y2="3.47" stroke="#e9c23a" stroke-width="3.1" stroke-linecap="round"/><line x1="6.37" y1="-4.14" x2="10.57" y2="-6.86" stroke="#e9c23a" stroke-width="3.1" stroke-linecap="round"/><line x1="1.97" y1="-7.34" x2="3.26" y2="-12.17" stroke="#f4e41c" stroke-width="2.2" stroke-linecap="round"/><line x1="-4.25" y1="-6.30" x2="-7.05" y2="-10.45" stroke="#f4e41c" stroke-width="2.2" stroke-linecap="round"/><line x1="-7.37" y1="-1.84" x2="-12.23" y2="-3.05" stroke="#f4e41c" stroke-width="2.2" stroke-linecap="round"/><line x1="-6.45" y1="4.03" x2="-10.69" y2="6.68" stroke="#f4e41c" stroke-width="2.2" stroke-linecap="round"/><line x1="-1.97" y1="7.34" x2="-3.26" y2="12.17" stroke="#f4e41c" stroke-width="2.2" stroke-linecap="round"/><line x1="4.36" y1="6.23" x2="7.23" y2="10.32" stroke="#f4e41c" stroke-width="2.2" stroke-linecap="round"/><line x1="7.31" y1="2.09" x2="12.11" y2="3.47" stroke="#f4e41c" stroke-width="2.2" stroke-linecap="round"/><line x1="6.37" y1="-4.14" x2="10.57" y2="-6.86" stroke="#f4e41c" stroke-width="2.2" stroke-linecap="round"/><circle r="6.4" fill="#f4e41c" stroke="#eea21e" stroke-width="0.9"/></g>
<g transform="translate(715.10,112.80) scale(0.896,0.938)"><path d="M3,16 C0.5,16 -0.5,12.5 0.5,10 C1.3,7 4,5 7.2,5.2 C7.8,1.5 11,0 13.5,0.2 C16.5,0.5 18.6,2.5 18.6,5.2 C22,4.8 25.2,7.5 25,11 C24.8,14 23,16 21,16 Z" fill="#d3d3d3" stroke="#2a5fc2" stroke-width="1.60" vector-effect="non-scaling-stroke" stroke-linejoin="round"/><path d="M14.5,9.0 C15.2,6.5 17,5.4 19,5.4" fill="none" stroke="#2a5fc2" stroke-width="1.44" vector-effect="non-scaling-stroke" stroke-linecap="round"/></g>
<g transform="translate(769.25,113.00) scale(0.95)"><line x1="1.97" y1="-7.34" x2="3.26" y2="-12.17" stroke="#e9c23a" stroke-width="3.1" stroke-linecap="round"/><line x1="-4.25" y1="-6.30" x2="-7.05" y2="-10.45" stroke="#e9c23a" stroke-width="3.1" stroke-linecap="round"/><line x1="-7.37" y1="-1.84" x2="-12.23" y2="-3.05" stroke="#e9c23a" stroke-width="3.1" stroke-linecap="round"/><line x1="-6.45" y1="4.03" x2="-10.69" y2="6.68" stroke="#e9c23a" stroke-width="3.1" stroke-linecap="round"/><line x1="-1.97" y1="7.34" x2="-3.26" y2="12.17" stroke="#e9c23a" stroke-width="3.1" stroke-linecap="round"/><line x1="4.36" y1="6.23" x2="7.23" y2="10.32" stroke="#e9c23a" stroke-width="3.1" stroke-linecap="round"/><line x1="7.31" y1="2.09" x2="12.11" y2="3.47" stroke="#e9c23a" stroke-width="3.1" stroke-linecap="round"/><line x1="6.37" y1="-4.14" x2="10.57" y2="-6.86" stroke="#e9c23a" stroke-width="3.1" stroke-linecap="round"/><line x1="1.97" y1="-7.34" x2="3.26" y2="-12.17" stroke="#f4e41c" stroke-width="2.2" stroke-linecap="round"/><line x1="-4.25" y1="-6.30" x2="-7.05" y2="-10.45" stroke="#f4e41c" stroke-width="2.2" stroke-linecap="round"/><line x1="-7.37" y1="-1.84" x2="-12.23" y2="-3.05" stroke="#f4e41c" stroke-width="2.2" stroke-linecap="round"/><line x1="-6.45" y1="4.03" x2="-10.69" y2="6.68" stroke="#f4e41c" stroke-width="2.2" stroke-linecap="round"/><line x1="-1.97" y1="7.34" x2="-3.26" y2="12.17" stroke="#f4e41c" stroke-width="2.2" stroke-linecap="round"/><line x1="4.36" y1="6.23" x2="7.23" y2="10.32" stroke="#f4e41c" stroke-width="2.2" stroke-linecap="round"/><line x1="7.31" y1="2.09" x2="12.11" y2="3.47" stroke="#f4e41c" stroke-width="2.2" stroke-linecap="round"/><line x1="6.37" y1="-4.14" x2="10.57" y2="-6.86" stroke="#f4e41c" stroke-width="2.2" stroke-linecap="round"/><circle r="6.4" fill="#f4e41c" stroke="#eea21e" stroke-width="0.9"/></g>
<g transform="translate(749.65,112.80) scale(0.896,0.938)"><path d="M3,16 C0.5,16 -0.5,12.5 0.5,10 C1.3,7 4,5 7.2,5.2 C7.8,1.5 11,0 13.5,0.2 C16.5,0.5 18.6,2.5 18.6,5.2 C22,4.8 25.2,7.5 25,11 C24.8,14 23,16 21,16 Z" fill="#d3d3d3" stroke="#2a5fc2" stroke-width="1.60" vector-effect="non-scaling-stroke" stroke-linejoin="round"/><path d="M14.5,9.0 C15.2,6.5 17,5.4 19,5.4" fill="none" stroke="#2a5fc2" stroke-width="1.44" vector-effect="non-scaling-stroke" stroke-linecap="round"/></g>
<path transform="translate(794.30,113.50) scale(1.00)" d="M6.6,-12.9 A12.98,12.98 0 1 0 6.6,12.9 A16.87,16.87 0 0 1 6.6,-12.9 Z" fill="#fff" stroke="#000" stroke-width="1.6" stroke-linejoin="round"/>
<g transform="translate(791.40,110.20) scale(1.000,1.050)"><path d="M3,16 C0.5,16 -0.5,12.5 0.5,10 C1.3,7 4,5 7.2,5.2 C7.8,1.5 11,0 13.5,0.2 C16.5,0.5 18.6,2.5 18.6,5.2 C22,4.8 25.2,7.5 25,11 C24.8,14 23,16 21,16 Z" fill="#d3d3d3" stroke="#33507a" stroke-width="1.60" vector-effect="non-scaling-stroke" stroke-linejoin="round"/><path d="M14.5,9.0 C15.2,6.5 17,5.4 19,5.4" fill="none" stroke="#33507a" stroke-width="1.44" vector-effect="non-scaling-stroke" stroke-linecap="round"/></g>
<path transform="translate(828.86,113.50) scale(1.00)" d="M6.6,-12.9 A12.98,12.98 0 1 0 6.6,12.9 A16.87,16.87 0 0 1 6.6,-12.9 Z" fill="#fff" stroke="#000" stroke-width="1.6" stroke-linejoin="round"/>
<g transform="translate(825.96,110.20) scale(1.000,1.050)"><path d="M3,16 C0.5,16 -0.5,12.5 0.5,10 C1.3,7 4,5 7.2,5.2 C7.8,1.5 11,0 13.5,0.2 C16.5,0.5 18.6,2.5 18.6,5.2 C22,4.8 25.2,7.5 25,11 C24.8,14 23,16 21,16 Z" fill="#d3d3d3" stroke="#33507a" stroke-width="1.60" vector-effect="non-scaling-stroke" stroke-linejoin="round"/><path d="M14.5,9.0 C15.2,6.5 17,5.4 19,5.4" fill="none" stroke="#33507a" stroke-width="1.44" vector-effect="non-scaling-stroke" stroke-linecap="round"/></g>
<g transform="translate(866.91,112.90) scale(0.95)"><line x1="1.97" y1="-7.34" x2="3.26" y2="-12.17" stroke="#e9c23a" stroke-width="3.1" stroke-linecap="round"/><line x1="-4.25" y1="-6.30" x2="-7.05" y2="-10.45" stroke="#e9c23a" stroke-width="3.1" stroke-linecap="round"/><line x1="-7.37" y1="-1.84" x2="-12.23" y2="-3.05" stroke="#e9c23a" stroke-width="3.1" stroke-linecap="round"/><line x1="-6.45" y1="4.03" x2="-10.69" y2="6.68" stroke="#e9c23a" stroke-width="3.1" stroke-linecap="round"/><line x1="-1.97" y1="7.34" x2="-3.26" y2="12.17" stroke="#e9c23a" stroke-width="3.1" stroke-linecap="round"/><line x1="4.36" y1="6.23" x2="7.23" y2="10.32" stroke="#e9c23a" stroke-width="3.1" stroke-linecap="round"/><line x1="7.31" y1="2.09" x2="12.11" y2="3.47" stroke="#e9c23a" stroke-width="3.1" stroke-linecap="round"/><line x1="6.37" y1="-4.14" x2="10.57" y2="-6.86" stroke="#e9c23a" stroke-width="3.1" stroke-linecap="round"/><line x1="1.97" y1="-7.34" x2="3.26" y2="-12.17" stroke="#f4e41c" stroke-width="2.2" stroke-linecap="round"/><line x1="-4.25" y1="-6.30" x2="-7.05" y2="-10.45" stroke="#f4e41c" stroke-width="2.2" stroke-linecap="round"/><line x1="-7.37" y1="-1.84" x2="-12.23" y2="-3.05" stroke="#f4e41c" stroke-width="2.2" stroke-linecap="round"/><line x1="-6.45" y1="4.03" x2="-10.69" y2="6.68" stroke="#f4e41c" stroke-width="2.2" stroke-linecap="round"/><line x1="-1.97" y1="7.34" x2="-3.26" y2="12.17" stroke="#f4e41c" stroke-width="2.2" stroke-linecap="round"/><line x1="4.36" y1="6.23" x2="7.23" y2="10.32" stroke="#f4e41c" stroke-width="2.2" stroke-linecap="round"/><line x1="7.31" y1="2.09" x2="12.11" y2="3.47" stroke="#f4e41c" stroke-width="2.2" stroke-linecap="round"/><line x1="6.37" y1="-4.14" x2="10.57" y2="-6.86" stroke="#f4e41c" stroke-width="2.2" stroke-linecap="round"/><circle r="6.4" fill="#f4e41c" stroke="#eea21e" stroke-width="0.9"/></g>
<g transform="translate(866.71,113.20) scale(0.736,0.787)"><path d="M3,16 C0.5,16 -0.5,12.5 0.5,10 C1.3,7 4,5 7.2,5.2 C7.8,1.5 11,0 13.5,0.2 C16.5,0.5 18.6,2.5 18.6,5.2 C22,4.8 25.2,7.5 25,11 C24.8,14 23,16 21,16 Z" fill="#fff" stroke="#2a5fc2" stroke-width="1.60" vector-effect="non-scaling-stroke" stroke-linejoin="round"/><path d="M14.5,9.0 C15.2,6.5 17,5.4 19,5.4" fill="none" stroke="#2a5fc2" stroke-width="1.44" vector-effect="non-scaling-stroke" stroke-linecap="round"/></g>
<g transform="translate(907.47,113.00) scale(0.95)"><line x1="1.97" y1="-7.34" x2="3.26" y2="-12.17" stroke="#e9c23a" stroke-width="3.1" stroke-linecap="round"/><line x1="-4.25" y1="-6.30" x2="-7.05" y2="-10.45" stroke="#e9c23a" stroke-width="3.1" stroke-linecap="round"/><line x1="-7.37" y1="-1.84" x2="-12.23" y2="-3.05" stroke="#e9c23a" stroke-width="3.1" stroke-linecap="round"/><line x1="-6.45" y1="4.03" x2="-10.69" y2="6.68" stroke="#e9c23a" stroke-width="3.1" stroke-linecap="round"/><line x1="-1.97" y1="7.34" x2="-3.26" y2="12.17" stroke="#e9c23a" stroke-width="3.1" stroke-linecap="round"/><line x1="4.36" y1="6.23" x2="7.23" y2="10.32" stroke="#e9c23a" stroke-width="3.1" stroke-linecap="round"/><line x1="7.31" y1="2.09" x2="12.11" y2="3.47" stroke="#e9c23a" stroke-width="3.1" stroke-linecap="round"/><line x1="6.37" y1="-4.14" x2="10.57" y2="-6.86" stroke="#e9c23a" stroke-width="3.1" stroke-linecap="round"/><line x1="1.97" y1="-7.34" x2="3.26" y2="-12.17" stroke="#f4e41c" stroke-width="2.2" stroke-linecap="round"/><line x1="-4.25" y1="-6.30" x2="-7.05" y2="-10.45" stroke="#f4e41c" stroke-width="2.2" stroke-linecap="round"/><line x1="-7.37" y1="-1.84" x2="-12.23" y2="-3.05" stroke="#f4e41c" stroke-width="2.2" stroke-linecap="round"/><line x1="-6.45" y1="4.03" x2="-10.69" y2="6.68" stroke="#f4e41c" stroke-width="2.2" stroke-linecap="round"/><line x1="-1.97" y1="7.34" x2="-3.26" y2="12.17" stroke="#f4e41c" stroke-width="2.2" stroke-linecap="round"/><line x1="4.36" y1="6.23" x2="7.23" y2="10.32" stroke="#f4e41c" stroke-width="2.2" stroke-linecap="round"/><line x1="7.31" y1="2.09" x2="12.11" y2="3.47" stroke="#f4e41c" stroke-width="2.2" stroke-linecap="round"/><line x1="6.37" y1="-4.14" x2="10.57" y2="-6.86" stroke="#f4e41c" stroke-width="2.2" stroke-linecap="round"/><circle r="6.4" fill="#f4e41c" stroke="#eea21e" stroke-width="0.9"/></g>
<g transform="translate(887.87,112.80) scale(0.896,0.938)"><path d="M3,16 C0.5,16 -0.5,12.5 0.5,10 C1.3,7 4,5 7.2,5.2 C7.8,1.5 11,0 13.5,0.2 C16.5,0.5 18.6,2.5 18.6,5.2 C22,4.8 25.2,7.5 25,11 C24.8,14 23,16 21,16 Z" fill="#d3d3d3" stroke="#2a5fc2" stroke-width="1.60" vector-effect="non-scaling-stroke" stroke-linejoin="round"/><path d="M14.5,9.0 C15.2,6.5 17,5.4 19,5.4" fill="none" stroke="#2a5fc2" stroke-width="1.44" vector-effect="non-scaling-stroke" stroke-linecap="round"/></g>
<path transform="translate(932.52,113.50) scale(1.00)" d="M6.6,-12.9 A12.98,12.98 0 1 0 6.6,12.9 A16.87,16.87 0 0 1 6.6,-12.9 Z" fill="#fff" stroke="#000" stroke-width="1.6" stroke-linejoin="round"/>
<g transform="translate(929.62,110.20) scale(1.000,1.050)"><path d="M3,16 C0.5,16 -0.5,12.5 0.5,10 C1.3,7 4,5 7.2,5.2 C7.8,1.5 11,0 13.5,0.2 C16.5,0.5 18.6,2.5 18.6,5.2 C22,4.8 25.2,7.5 25,11 C24.8,14 23,16 21,16 Z" fill="#d3d3d3" stroke="#33507a" stroke-width="1.60" vector-effect="non-scaling-stroke" stroke-linejoin="round"/><path d="M14.5,9.0 C15.2,6.5 17,5.4 19,5.4" fill="none" stroke="#33507a" stroke-width="1.44" vector-effect="non-scaling-stroke" stroke-linecap="round"/></g>
<path transform="translate(967.07,113.50) scale(1.00)" d="M6.6,-12.9 A12.98,12.98 0 1 0 6.6,12.9 A16.87,16.87 0 0 1 6.6,-12.9 Z" fill="#fff" stroke="#000" stroke-width="1.6" stroke-linejoin="round"/>
<g transform="translate(964.17,110.20) scale(1.000,1.050)"><path d="M3,16 C0.5,16 -0.5,12.5 0.5,10 C1.3,7 4,5 7.2,5.2 C7.8,1.5 11,0 13.5,0.2 C16.5,0.5 18.6,2.5 18.6,5.2 C22,4.8 25.2,7.5 25,11 C24.8,14 23,16 21,16 Z" fill="#d3d3d3" stroke="#33507a" stroke-width="1.60" vector-effect="non-scaling-stroke" stroke-linejoin="round"/><path d="M14.5,9.0 C15.2,6.5 17,5.4 19,5.4" fill="none" stroke="#33507a" stroke-width="1.44" vector-effect="non-scaling-stroke" stroke-linecap="round"/></g>
<g transform="translate(1011.13,113.00) scale(0.95)"><line x1="1.97" y1="-7.34" x2="3.26" y2="-12.17" stroke="#e9c23a" stroke-width="3.1" stroke-linecap="round"/><line x1="-4.25" y1="-6.30" x2="-7.05" y2="-10.45" stroke="#e9c23a" stroke-width="3.1" stroke-linecap="round"/><line x1="-7.37" y1="-1.84" x2="-12.23" y2="-3.05" stroke="#e9c23a" stroke-width="3.1" stroke-linecap="round"/><line x1="-6.45" y1="4.03" x2="-10.69" y2="6.68" stroke="#e9c23a" stroke-width="3.1" stroke-linecap="round"/><line x1="-1.97" y1="7.34" x2="-3.26" y2="12.17" stroke="#e9c23a" stroke-width="3.1" stroke-linecap="round"/><line x1="4.36" y1="6.23" x2="7.23" y2="10.32" stroke="#e9c23a" stroke-width="3.1" stroke-linecap="round"/><line x1="7.31" y1="2.09" x2="12.11" y2="3.47" stroke="#e9c23a" stroke-width="3.1" stroke-linecap="round"/><line x1="6.37" y1="-4.14" x2="10.57" y2="-6.86" stroke="#e9c23a" stroke-width="3.1" stroke-linecap="round"/><line x1="1.97" y1="-7.34" x2="3.26" y2="-12.17" stroke="#f4e41c" stroke-width="2.2" stroke-linecap="round"/><line x1="-4.25" y1="-6.30" x2="-7.05" y2="-10.45" stroke="#f4e41c" stroke-width="2.2" stroke-linecap="round"/><line x1="-7.37" y1="-1.84" x2="-12.23" y2="-3.05" stroke="#f4e41c" stroke-width="2.2" stroke-linecap="round"/><line x1="-6.45" y1="4.03" x2="-10.69" y2="6.68" stroke="#f4e41c" stroke-width="2.2" stroke-linecap="round"/><line x1="-1.97" y1="7.34" x2="-3.26" y2="12.17" stroke="#f4e41c" stroke-width="2.2" stroke-linecap="round"/><line x1="4.36" y1="6.23" x2="7.23" y2="10.32" stroke="#f4e41c" stroke-width="2.2" stroke-linecap="round"/><line x1="7.31" y1="2.09" x2="12.11" y2="3.47" stroke="#f4e41c" stroke-width="2.2" stroke-linecap="round"/><line x1="6.37" y1="-4.14" x2="10.57" y2="-6.86" stroke="#f4e41c" stroke-width="2.2" stroke-linecap="round"/><circle r="6.4" fill="#f4e41c" stroke="#eea21e" stroke-width="0.9"/></g>
<g transform="translate(991.53,112.80) scale(0.896,0.938)"><path d="M3,16 C0.5,16 -0.5,12.5 0.5,10 C1.3,7 4,5 7.2,5.2 C7.8,1.5 11,0 13.5,0.2 C16.5,0.5 18.6,2.5 18.6,5.2 C22,4.8 25.2,7.5 25,11 C24.8,14 23,16 21,16 Z" fill="#d3d3d3" stroke="#2a5fc2" stroke-width="1.60" vector-effect="non-scaling-stroke" stroke-linejoin="round"/><path d="M14.5,9.0 C15.2,6.5 17,5.4 19,5.4" fill="none" stroke="#2a5fc2" stroke-width="1.44" vector-effect="non-scaling-stroke" stroke-linecap="round"/></g>
<g transform="translate(1045.68,113.00) scale(0.95)"><line x1="1.97" y1="-7.34" x2="3.26" y2="-12.17" stroke="#e9c23a" stroke-width="3.1" stroke-linecap="round"/><line x1="-4.25" y1="-6.30" x2="-7.05" y2="-10.45" stroke="#e9c23a" stroke-width="3.1" stroke-linecap="round"/><line x1="-7.37" y1="-1.84" x2="-12.23" y2="-3.05" stroke="#e9c23a" stroke-width="3.1" stroke-linecap="round"/><line x1="-6.45" y1="4.03" x2="-10.69" y2="6.68" stroke="#e9c23a" stroke-width="3.1" stroke-linecap="round"/><line x1="-1.97" y1="7.34" x2="-3.26" y2="12.17" stroke="#e9c23a" stroke-width="3.1" stroke-linecap="round"/><line x1="4.36" y1="6.23" x2="7.23" y2="10.32" stroke="#e9c23a" stroke-width="3.1" stroke-linecap="round"/><line x1="7.31" y1="2.09" x2="12.11" y2="3.47" stroke="#e9c23a" stroke-width="3.1" stroke-linecap="round"/><line x1="6.37" y1="-4.14" x2="10.57" y2="-6.86" stroke="#e9c23a" stroke-width="3.1" stroke-linecap="round"/><line x1="1.97" y1="-7.34" x2="3.26" y2="-12.17" stroke="#f4e41c" stroke-width="2.2" stroke-linecap="round"/><line x1="-4.25" y1="-6.30" x2="-7.05" y2="-10.45" stroke="#f4e41c" stroke-width="2.2" stroke-linecap="round"/><line x1="-7.37" y1="-1.84" x2="-12.23" y2="-3.05" stroke="#f4e41c" stroke-width="2.2" stroke-linecap="round"/><line x1="-6.45" y1="4.03" x2="-10.69" y2="6.68" stroke="#f4e41c" stroke-width="2.2" stroke-linecap="round"/><line x1="-1.97" y1="7.34" x2="-3.26" y2="12.17" stroke="#f4e41c" stroke-width="2.2" stroke-linecap="round"/><line x1="4.36" y1="6.23" x2="7.23" y2="10.32" stroke="#f4e41c" stroke-width="2.2" stroke-linecap="round"/><line x1="7.31" y1="2.09" x2="12.11" y2="3.47" stroke="#f4e41c" stroke-width="2.2" stroke-linecap="round"/><line x1="6.37" y1="-4.14" x2="10.57" y2="-6.86" stroke="#f4e41c" stroke-width="2.2" stroke-linecap="round"/><circle r="6.4" fill="#f4e41c" stroke="#eea21e" stroke-width="0.9"/></g>
<g transform="translate(1026.08,112.80) scale(0.896,0.938)"><path d="M3,16 C0.5,16 -0.5,12.5 0.5,10 C1.3,7 4,5 7.2,5.2 C7.8,1.5 11,0 13.5,0.2 C16.5,0.5 18.6,2.5 18.6,5.2 C22,4.8 25.2,7.5 25,11 C24.8,14 23,16 21,16 Z" fill="#d3d3d3" stroke="#2a5fc2" stroke-width="1.60" vector-effect="non-scaling-stroke" stroke-linejoin="round"/><path d="M14.5,9.0 C15.2,6.5 17,5.4 19,5.4" fill="none" stroke="#2a5fc2" stroke-width="1.44" vector-effect="non-scaling-stroke" stroke-linecap="round"/></g>
<g stroke="#33507a" stroke-width="3.40" fill="#33507a"><circle cx="1064.74" cy="118.30" r="4.80"/><circle cx="1076.44" cy="111.40" r="5.70"/><circle cx="1087.64" cy="115.80" r="6.40"/><rect x="1064.74" y="113" width="22.90" height="10" /></g><g fill="#d3d3d3"><circle cx="1064.74" cy="118.30" r="4.80"/><circle cx="1076.44" cy="111.40" r="5.70"/><circle cx="1087.64" cy="115.80" r="6.40"/><rect x="1064.74" y="113" width="22.90" height="10" /></g>
<g transform="translate(1068.34,111.70) scale(0.936,0.887)"><path d="M3,16 C0.5,16 -0.5,12.5 0.5,10 C1.3,7 4,5 7.2,5.2 C7.8,1.5 11,0 13.5,0.2 C16.5,0.5 18.6,2.5 18.6,5.2 C22,4.8 25.2,7.5 25,11 C24.8,14 23,16 21,16 Z" fill="#fff" stroke="#33507a" stroke-width="1.60" vector-effect="non-scaling-stroke" stroke-linejoin="round"/><path d="M14.5,9.0 C15.2,6.5 17,5.4 19,5.4" fill="none" stroke="#33507a" stroke-width="1.44" vector-effect="non-scaling-stroke" stroke-linecap="round"/></g>
<path d="M118.4,162.0 L135.0,143.8 M116.0,156.3 L121.1,158.3" stroke="#000" stroke-width="1.9" stroke-linecap="round" fill="none"/>
<path d="M135.3,161.7 L152.6,143.8 M149.9,147.5 L154.3,150.2" stroke="#000" stroke-width="1.9" stroke-linecap="round" fill="none"/>
<path d="M157.7,165.1 L164.1,140.7 M164.1,140.7 L175.0,140.7" stroke="#000" stroke-width="1.9" stroke-linecap="round" fill="none"/>
<path d="M173.6,164.1 L183.4,141.7 M169.6,159.3 L174.6,159.7" stroke="#000" stroke-width="1.9" stroke-linecap="round" fill="none"/>
<path d="M185.8,160.0 L205.4,145.4 M185.5,154.6 L188.9,156.6" stroke="#000" stroke-width="1.9" stroke-linecap="round" fill="none"/>
<path d="M1017.5,162.6 L1033.1,143.9 M1030.8,146.6 L1035.4,149.3" stroke="#000" stroke-width="1.9" stroke-linecap="round" fill="none"/>
<path d="M1035.8,163.0 L1049.5,142.7 M1047.5,145.4 L1051.8,148.2" stroke="#000" stroke-width="1.9" stroke-linecap="round" fill="none"/>
<path d="M1074.9,165.0 L1079.6,141.5 M1078.8,145.0 L1083.5,145.0" stroke="#000" stroke-width="1.9" stroke-linecap="round" fill="none"/>
<path d="M1092.9,165.3 L1096.0,141.5 M1095.4,145.0 L1100.7,145.0" stroke="#000" stroke-width="1.9" stroke-linecap="round" fill="none"/>
<circle cx="213.38" cy="153" r="3.9" stroke="#000" stroke-width="1.7" stroke-linecap="round" fill="none"/>
<circle cx="230.66" cy="153" r="3.9" stroke="#000" stroke-width="1.7" stroke-linecap="round" fill="none"/>
<circle cx="247.94" cy="153" r="3.9" stroke="#000" stroke-width="1.7" stroke-linecap="round" fill="none"/>
<circle cx="265.22" cy="153" r="3.9" stroke="#000" stroke-width="1.7" stroke-linecap="round" fill="none"/>
<circle cx="282.49" cy="153" r="3.9" stroke="#000" stroke-width="1.7" stroke-linecap="round" fill="none"/>
<circle cx="299.77" cy="153" r="3.9" stroke="#000" stroke-width="1.7" stroke-linecap="round" fill="none"/>
<circle cx="317.05" cy="153" r="3.9" stroke="#000" stroke-width="1.7" stroke-linecap="round" fill="none"/>
<circle cx="334.32" cy="153" r="3.9" stroke="#000" stroke-width="1.7" stroke-linecap="round" fill="none"/>
<circle cx="351.60" cy="153" r="3.9" stroke="#000" stroke-width="1.7" stroke-linecap="round" fill="none"/>
<circle cx="368.88" cy="153" r="3.9" stroke="#000" stroke-width="1.7" stroke-linecap="round" fill="none"/>
<circle cx="386.16" cy="153" r="3.9" stroke="#000" stroke-width="1.7" stroke-linecap="round" fill="none"/>
<circle cx="403.43" cy="153" r="3.9" stroke="#000" stroke-width="1.7" stroke-linecap="round" fill="none"/>
<circle cx="420.71" cy="153" r="3.9" stroke="#000" stroke-width="1.7" stroke-linecap="round" fill="none"/>
<circle cx="437.99" cy="153" r="3.9" stroke="#000" stroke-width="1.7" stroke-linecap="round" fill="none"/>
<circle cx="455.26" cy="153" r="3.9" stroke="#000" stroke-width="1.7" stroke-linecap="round" fill="none"/>
<circle cx="472.54" cy="153" r="3.9" stroke="#000" stroke-width="1.7" stroke-linecap="round" fill="none"/>
<circle cx="489.82" cy="153" r="3.9" stroke="#000" stroke-width="1.7" stroke-linecap="round" fill="none"/>
<circle cx="507.09" cy="153" r="3.9" stroke="#000" stroke-width="1.7" stroke-linecap="round" fill="none"/>
<circle cx="524.37" cy="153" r="3.9" stroke="#000" stroke-width="1.7" stroke-linecap="round" fill="none"/>
<circle cx="541.65" cy="153" r="3.9" stroke="#000" stroke-width="1.7" stroke-linecap="round" fill="none"/>
<circle cx="558.92" cy="153" r="3.9" stroke="#000" stroke-width="1.7" stroke-linecap="round" fill="none"/>
<circle cx="576.20" cy="153" r="3.9" stroke="#000" stroke-width="1.7" stroke-linecap="round" fill="none"/>
<circle cx="593.48" cy="153" r="3.9" stroke="#000" stroke-width="1.7" stroke-linecap="round" fill="none"/>
<circle cx="610.76" cy="153" r="3.9" stroke="#000" stroke-width="1.7" stroke-linecap="round" fill="none"/>
<circle cx="628.03" cy="153" r="3.9" stroke="#000" stroke-width="1.7" stroke-linecap="round" fill="none"/>
<circle cx="645.31" cy="153" r="3.9" stroke="#000" stroke-width="1.7" stroke-linecap="round" fill="none"/>
<circle cx="662.59" cy="153" r="3.9" stroke="#000" stroke-width="1.7" stroke-linecap="round" fill="none"/>
<circle cx="679.86" cy="153" r="3.9" stroke="#000" stroke-width="1.7" stroke-linecap="round" fill="none"/>
<circle cx="697.14" cy="153" r="3.9" stroke="#000" stroke-width="1.7" stroke-linecap="round" fill="none"/>
<circle cx="714.42" cy="153" r="3.9" stroke="#000" stroke-width="1.7" stroke-linecap="round" fill="none"/>
<circle cx="731.70" cy="153" r="3.9" stroke="#000" stroke-width="1.7" stroke-linecap="round" fill="none"/>
<circle cx="748.97" cy="153" r="3.9" stroke="#000" stroke-width="1.7" stroke-linecap="round" fill="none"/>
<circle cx="766.25" cy="153" r="3.9" stroke="#000" stroke-width="1.7" stroke-linecap="round" fill="none"/>
<circle cx="783.53" cy="153" r="3.9" stroke="#000" stroke-width="1.7" stroke-linecap="round" fill="none"/>
<circle cx="800.80" cy="153" r="3.9" stroke="#000" stroke-width="1.7" stroke-linecap="round" fill="none"/>
<circle cx="818.08" cy="153" r="3.9" stroke="#000" stroke-width="1.7" stroke-linecap="round" fill="none"/>
<circle cx="835.36" cy="153" r="3.9" stroke="#000" stroke-width="1.7" stroke-linecap="round" fill="none"/>
<circle cx="852.63" cy="153" r="3.9" stroke="#000" stroke-width="1.7" stroke-linecap="round" fill="none"/>
<circle cx="869.91" cy="153" r="3.9" stroke="#000" stroke-width="1.7" stroke-linecap="round" fill="none"/>
<circle cx="887.19" cy="153" r="3.9" stroke="#000" stroke-width="1.7" stroke-linecap="round" fill="none"/>
<circle cx="904.47" cy="153" r="3.9" stroke="#000" stroke-width="1.7" stroke-linecap="round" fill="none"/>
<circle cx="921.74" cy="153" r="3.9" stroke="#000" stroke-width="1.7" stroke-linecap="round" fill="none"/>
<circle cx="939.02" cy="153" r="3.9" stroke="#000" stroke-width="1.7" stroke-linecap="round" fill="none"/>
<circle cx="956.30" cy="153" r="3.9" stroke="#000" stroke-width="1.7" stroke-linecap="round" fill="none"/>
<circle cx="973.57" cy="153" r="3.9" stroke="#000" stroke-width="1.7" stroke-linecap="round" fill="none"/>
<circle cx="990.85" cy="153" r="3.9" stroke="#000" stroke-width="1.7" stroke-linecap="round" fill="none"/>
<circle cx="1008.13" cy="153" r="3.9" stroke="#000" stroke-width="1.7" stroke-linecap="round" fill="none"/>
<circle cx="1059.96" cy="153" r="3.9" stroke="#000" stroke-width="1.7" stroke-linecap="round" fill="none"/>
<line x1="243" y1="97" x2="243" y2="359" stroke="#1a1a1a" stroke-width="2" stroke-dasharray="5.4,2.7" stroke-dashoffset="1.5"/>
<line x1="144.50" y1="354.0" x2="144.50" y2="359" stroke="#111" stroke-width="1"/>
<line x1="161.50" y1="349.0" x2="161.50" y2="359" stroke="#111" stroke-width="1"/>
<line x1="178.50" y1="354.0" x2="178.50" y2="359" stroke="#111" stroke-width="1"/>
<line x1="196.50" y1="349.0" x2="196.50" y2="359" stroke="#111" stroke-width="1"/>
<line x1="213.50" y1="354.0" x2="213.50" y2="359" stroke="#111" stroke-width="1"/>
<line x1="230.50" y1="349.0" x2="230.50" y2="359" stroke="#111" stroke-width="1"/>
<line x1="247.50" y1="354.0" x2="247.50" y2="359" stroke="#111" stroke-width="1"/>
<line x1="282.50" y1="354.0" x2="282.50" y2="359" stroke="#111" stroke-width="1"/>
<line x1="299.50" y1="349.0" x2="299.50" y2="359" stroke="#111" stroke-width="1"/>
<line x1="317.50" y1="354.0" x2="317.50" y2="359" stroke="#111" stroke-width="1"/>
<line x1="334.50" y1="349.0" x2="334.50" y2="359" stroke="#111" stroke-width="1"/>
<line x1="351.50" y1="354.0" x2="351.50" y2="359" stroke="#111" stroke-width="1"/>
<line x1="368.50" y1="349.0" x2="368.50" y2="359" stroke="#111" stroke-width="1"/>
<line x1="386.50" y1="354.0" x2="386.50" y2="359" stroke="#111" stroke-width="1"/>
<line x1="420.50" y1="354.0" x2="420.50" y2="359" stroke="#111" stroke-width="1"/>
<line x1="437.50" y1="349.0" x2="437.50" y2="359" stroke="#111" stroke-width="1"/>
<line x1="455.50" y1="354.0" x2="455.50" y2="359" stroke="#111" stroke-width="1"/>
<line x1="472.50" y1="349.0" x2="472.50" y2="359" stroke="#111" stroke-width="1"/>
<line x1="489.50" y1="354.0" x2="489.50" y2="359" stroke="#111" stroke-width="1"/>
<line x1="507.50" y1="349.0" x2="507.50" y2="359" stroke="#111" stroke-width="1"/>
<line x1="524.50" y1="354.0" x2="524.50" y2="359" stroke="#111" stroke-width="1"/>
<line x1="558.50" y1="354.0" x2="558.50" y2="359" stroke="#111" stroke-width="1"/>
<line x1="576.50" y1="349.0" x2="576.50" y2="359" stroke="#111" stroke-width="1"/>
<line x1="593.50" y1="354.0" x2="593.50" y2="359" stroke="#111" stroke-width="1"/>
<line x1="610.50" y1="349.0" x2="610.50" y2="359" stroke="#111" stroke-width="1"/>
<line x1="628.50" y1="354.0" x2="628.50" y2="359" stroke="#111" stroke-width="1"/>
<line x1="645.50" y1="349.0" x2="645.50" y2="359" stroke="#111" stroke-width="1"/>
<line x1="662.50" y1="354.0" x2="662.50" y2="359" stroke="#111" stroke-width="1"/>
<line x1="697.50" y1="354.0" x2="697.50" y2="359" stroke="#111" stroke-width="1"/>
<line x1="714.50" y1="349.0" x2="714.50" y2="359" stroke="#111" stroke-width="1"/>
<line x1="731.50" y1="354.0" x2="731.50" y2="359" stroke="#111" stroke-width="1"/>
<line x1="748.50" y1="349.0" x2="748.50" y2="359" stroke="#111" stroke-width="1"/>
<line x1="766.50" y1="354.0" x2="766.50" y2="359" stroke="#111" stroke-width="1"/>
<line x1="783.50" y1="349.0" x2="783.50" y2="359" stroke="#111" stroke-width="1"/>
<line x1="800.50" y1="354.0" x2="800.50" y2="359" stroke="#111" stroke-width="1"/>
<line x1="835.50" y1="354.0" x2="835.50" y2="359" stroke="#111" stroke-width="1"/>
<line x1="852.50" y1="349.0" x2="852.50" y2="359" stroke="#111" stroke-width="1"/>
<line x1="869.50" y1="354.0" x2="869.50" y2="359" stroke="#111" stroke-width="1"/>
<line x1="887.50" y1="349.0" x2="887.50" y2="359" stroke="#111" stroke-width="1"/>
<line x1="904.50" y1="354.0" x2="904.50" y2="359" stroke="#111" stroke-width="1"/>
<line x1="921.50" y1="349.0" x2="921.50" y2="359" stroke="#111" stroke-width="1"/>
<line x1="939.50" y1="354.0" x2="939.50" y2="359" stroke="#111" stroke-width="1"/>
<line x1="973.50" y1="354.0" x2="973.50" y2="359" stroke="#111" stroke-width="1"/>
<line x1="990.50" y1="349.0" x2="990.50" y2="359" stroke="#111" stroke-width="1"/>
<line x1="1008.50" y1="354.0" x2="1008.50" y2="359" stroke="#111" stroke-width="1"/>
<line x1="1025.50" y1="349.0" x2="1025.50" y2="359" stroke="#111" stroke-width="1"/>
<line x1="1042.50" y1="354.0" x2="1042.50" y2="359" stroke="#111" stroke-width="1"/>
<line x1="1059.50" y1="349.0" x2="1059.50" y2="359" stroke="#111" stroke-width="1"/>
<line x1="1077.50" y1="354.0" x2="1077.50" y2="359" stroke="#111" stroke-width="1"/>
<text x="160.6" y="377.2" text-anchor="middle" font-family="DejaVu Sans, sans-serif" font-size="18" fill="#000">06</text>
<text x="195.1" y="377.2" text-anchor="middle" font-family="DejaVu Sans, sans-serif" font-size="18" fill="#000">12</text>
<text x="229.7" y="377.2" text-anchor="middle" font-family="DejaVu Sans, sans-serif" font-size="18" fill="#000">18</text>
<text x="264.2" y="377.2" text-anchor="middle" font-family="DejaVu Sans, sans-serif" font-size="18" fill="#000">tor</text>
<text x="298.8" y="377.2" text-anchor="middle" font-family="DejaVu Sans, sans-serif" font-size="18" fill="#000">06</text>
<text x="333.3" y="377.2" text-anchor="middle" font-family="DejaVu Sans, sans-serif" font-size="18" fill="#000">12</text>
<text x="367.9" y="377.2" text-anchor="middle" font-family="DejaVu Sans, sans-serif" font-size="18" fill="#000">18</text>
<text x="402.4" y="377.2" text-anchor="middle" font-family="DejaVu Sans, sans-serif" font-size="18" fill="#000">sre</text>
<text x="437.0" y="377.2" text-anchor="middle" font-family="DejaVu Sans, sans-serif" font-size="18" fill="#000">06</text>
<text x="471.5" y="377.2" text-anchor="middle" font-family="DejaVu Sans, sans-serif" font-size="18" fill="#000">12</text>
<text x="506.1" y="377.2" text-anchor="middle" font-family="DejaVu Sans, sans-serif" font-size="18" fill="#000">18</text>
<text x="540.6" y="377.2" text-anchor="middle" font-family="DejaVu Sans, sans-serif" font-size="18" fill="#000">čet</text>
<text x="575.2" y="377.2" text-anchor="middle" font-family="DejaVu Sans, sans-serif" font-size="18" fill="#000">06</text>
<text x="609.8" y="377.2" text-anchor="middle" font-family="DejaVu Sans, sans-serif" font-size="18" fill="#000">12</text>
<text x="644.3" y="377.2" text-anchor="middle" font-family="DejaVu Sans, sans-serif" font-size="18" fill="#000">18</text>
<text x="678.9" y="377.2" text-anchor="middle" font-family="DejaVu Sans, sans-serif" font-size="18" fill="#000">pet</text>
<text x="713.4" y="377.2" text-anchor="middle" font-family="DejaVu Sans, sans-serif" font-size="18" fill="#000">06</text>
<text x="748.0" y="377.2" text-anchor="middle" font-family="DejaVu Sans, sans-serif" font-size="18" fill="#000">12</text>
<text x="782.5" y="377.2" text-anchor="middle" font-family="DejaVu Sans, sans-serif" font-size="18" fill="#000">18</text>
<text x="817.1" y="377.2" text-anchor="middle" font-family="DejaVu Sans, sans-serif" font-size="18" fill="#000">sob</text>
<text x="851.6" y="377.2" text-anchor="middle" font-family="DejaVu Sans, sans-serif" font-size="18" fill="#000">06</text>
<text x="886.2" y="377.2" text-anchor="middle" font-family="DejaVu Sans, sans-serif" font-size="18" fill="#000">12</text>
<text x="920.7" y="377.2" text-anchor="middle" font-family="DejaVu Sans, sans-serif" font-size="18" fill="#000">18</text>
<text x="955.3" y="377.2" text-anchor="middle" font-family="DejaVu Sans, sans-serif" font-size="18" fill="#000">ned</text>
<text x="989.9" y="377.2" text-anchor="middle" font-family="DejaVu Sans, sans-serif" font-size="18" fill="#000">06</text>
<text x="1024.4" y="377.2" text-anchor="middle" font-family="DejaVu Sans, sans-serif" font-size="18" fill="#000">12</text>
<text x="1059.0" y="377.2" text-anchor="middle" font-family="DejaVu Sans, sans-serif" font-size="18" fill="#000">18</text>
<text x="195.3" y="68.8" text-anchor="middle" font-family="DejaVu Sans, sans-serif" font-size="18" fill="#000">ponedeljek</text>
<text x="195.3" y="90" text-anchor="middle" font-family="DejaVu Sans, sans-serif" font-size="18" fill="#000">03.11</text>
<text x="333.5" y="68.8" text-anchor="middle" font-family="DejaVu Sans, sans-serif" font-size="18" fill="#000">torek</text>
<text x="333.5" y="90" text-anchor="middle" font-family="DejaVu Sans, sans-serif" font-size="18" fill="#000">04.11</text>
<text x="471.7" y="68.8" text-anchor="middle" font-family="DejaVu Sans, sans-serif" font-size="18" fill="#000">sreda</text>
<text x="471.7" y="90" text-anchor="middle" font-family="DejaVu Sans, sans-serif" font-size="18" fill="#000">05.11</text>
<text x="610.0" y="68.8" text-anchor="middle" font-family="DejaVu Sans, sans-serif" font-size="18" fill="#000">četrtek</text>
<text x="610.0" y="90" text-anchor="middle" font-family="DejaVu Sans, sans-serif" font-size="18" fill="#000">06.11</text>
<text x="748.2" y="68.8" text-anchor="middle" font-family="DejaVu Sans, sans-serif" font-size="18" fill="#000">petek</text>
<text x="748.2" y="90" text-anchor="middle" font-family="DejaVu Sans, sans-serif" font-size="18" fill="#000">07.11</text>
<text x="886.4" y="68.8" text-anchor="middle" font-family="DejaVu Sans, sans-serif" font-size="18" fill="#d40000">sobota</text>
<text x="886.4" y="90" text-anchor="middle" font-family="DejaVu Sans, sans-serif" font-size="18" fill="#d40000">08.11</text>
<text x="1024.6" y="68.8" text-anchor="middle" font-family="DejaVu Sans, sans-serif" font-size="18" fill="#d40000">nedelja</text>
<text x="1024.6" y="90" text-anchor="middle" font-family="DejaVu Sans, sans-serif" font-size="18" fill="#d40000">09.11</text>
<text x="123.3" y="366.8" text-anchor="end" font-family="DejaVu Sans, sans-serif" font-size="18" fill="#000">0</text>
<text x="123.3" y="319.6" text-anchor="end" font-family="DejaVu Sans, sans-serif" font-size="18" fill="#000">4</text>
<text x="123.3" y="272.1" text-anchor="end" font-family="DejaVu Sans, sans-serif" font-size="18" fill="#000">8</text>
<text x="123.3" y="225.6" text-anchor="end" font-family="DejaVu Sans, sans-serif" font-size="18" fill="#000">2</text>
<text x="46" y="366.6" font-family="DejaVu Sans, sans-serif" font-size="18" fill="#ff0000">0</text>
<text x="46" y="329.6" font-family="DejaVu Sans, sans-serif" font-size="18" fill="#ff0000">4</text>
<text x="46" y="291.1" font-family="DejaVu Sans, sans-serif" font-size="18" fill="#ff0000">9</text>
<text x="46" y="253.9" font-family="DejaVu Sans, sans-serif" font-size="18" fill="#ff0000">13</text>
<text x="46" y="216.8" font-family="DejaVu Sans, sans-serif" font-size="18" fill="#ff0000">18</text>
<text x="46" y="179.4" font-family="DejaVu Sans, sans-serif" font-size="18" fill="#ff0000">22</text>
<text x="1097.7" y="366.4" font-family="DejaVu Sans, sans-serif" font-size="18" fill="#000">0</text>
<text x="1097.7" y="326.6" font-family="DejaVu Sans, sans-serif" font-size="18" fill="#000">1.5</text>
<text x="1097.7" y="291.6" font-family="DejaVu Sans, sans-serif" font-size="18" fill="#000">3.5</text>
<text x="1097.7" y="253.6" font-family="DejaVu Sans, sans-serif" font-size="18" fill="#000">6.0</text>
<text x="1097.7" y="215.9" font-family="DejaVu Sans, sans-serif" font-size="18" fill="#000">9.0</text>
<text x="1097.7" y="179.8" font-family="DejaVu Sans, sans-serif" font-size="18" fill="#000">14</text>
<text transform="translate(34.6,348.7) rotate(-90)" font-family="DejaVu Sans, sans-serif" font-size="19" fill="#ff0000">Temperatura (°C)</text>
<text transform="translate(100,345.9) rotate(-90)" font-family="DejaVu Sans, sans-serif" font-size="19.3" fill="#000">Padavine (mm/h)</text>
<text transform="translate(1144.8,349.2) rotate(-90)" font-family="DejaVu Sans, sans-serif" font-size="19.3" fill="#000">Višina oblakov (km)</text>
<rect x="127" y="390" width="32" height="11" fill="#0050ff"/>
<rect x="165" y="386.2" width="104.8" height="19.3" fill="#fff"/>
<text x="169.5" y="401.6" font-family="Liberation Sans, Arial, sans-serif" font-size="19.3" fill="#000">Dež</text>
<rect x="278.1" y="390" width="31.7" height="10.7" fill="#10d8c6"/>
<rect x="310.1" y="386.2" width="109.7" height="19.3" fill="#fff"/>
<text x="318.6" y="401.4" font-family="Liberation Sans, Arial, sans-serif" font-size="19.3" fill="#000">Možnost ploh</text>
<text x="499.5" y="401.7" font-family="Liberation Sans, Arial, sans-serif" font-size="15.8" fill="#0000ff">© vreme.us &amp; vreme.pro</text>
<rect x="759.7" y="386.4" width="180.8" height="19.1" fill="#fff"/>
<text x="759.3" y="401.5" font-family="Liberation Sans, Arial, sans-serif" font-size="19.3" fill="#000">Gostota oblakov (%)</text>
<rect x="949.5" y="385.5" width="29.1" height="13" fill="#d0d0d0"/>
<rect x="978.5" y="385.5" width="29.1" height="13" fill="#adadad"/>
<rect x="1007.6" y="385.5" width="29.1" height="13" fill="#8f8f8f"/>
<rect x="1036.7" y="385.5" width="29.1" height="13" fill="#717171"/>
<rect x="1065.7" y="385.5" width="29.1" height="13" fill="#555555"/>
<rect x="949.5" y="385.5" width="145.2" height="13" fill="none" stroke="#000" stroke-width="1"/>
<text x="949.5" y="414.3" text-anchor="middle" font-family="DejaVu Sans, sans-serif" font-size="15" fill="#000">10</text>
<text x="978.5" y="414.3" text-anchor="middle" font-family="DejaVu Sans, sans-serif" font-size="15" fill="#000">25</text>
<text x="1007.6" y="414.3" text-anchor="middle" font-family="DejaVu Sans, sans-serif" font-size="15" fill="#000">50</text>
<text x="1036.7" y="414.3" text-anchor="middle" font-family="DejaVu Sans, sans-serif" font-size="15" fill="#000">75</text>
<text x="1065.7" y="414.3" text-anchor="middle" font-family="DejaVu Sans, sans-serif" font-size="15" fill="#000">90</text>
<text x="1094.8" y="414.3" text-anchor="middle" font-family="DejaVu Sans, sans-serif" font-size="15" fill="#000">100</text>
</svg></body></html>
